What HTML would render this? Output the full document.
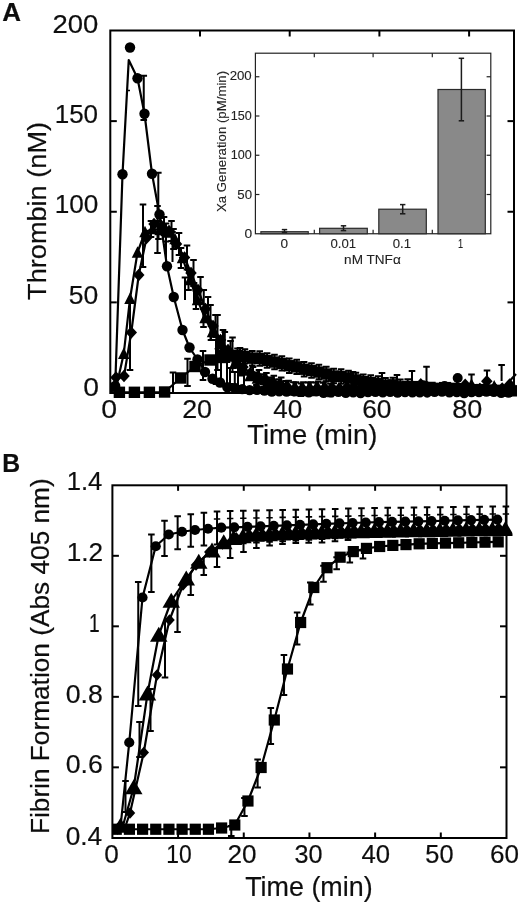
<!DOCTYPE html>
<html><head><meta charset="utf-8"><title>Figure</title>
<style>
html,body{margin:0;padding:0;background:#fff;}
body{width:520px;height:903px;overflow:hidden;font-family:"Liberation Sans",sans-serif;}
svg{display:block;}
svg text{font-family:"Liberation Sans",sans-serif;}
</style></head><body>
<svg width="520" height="903" viewBox="0 0 520 903">
<defs><filter id="soft" x="0" y="0" width="100%" height="100%" filterUnits="userSpaceOnUse"><feGaussianBlur stdDeviation="0.45"/></filter></defs>
<rect width="520" height="903" fill="#fff"/>
<g filter="url(#soft)">
<clipPath id="ca"><rect x="110.3" y="30.5" width="409.2" height="368.5"/></clipPath>
<g clip-path="url(#ca)">
<polyline points="110.30,392.00 115.20,386.00 122.50,174.25 128.75,60.00 137.50,78.25 144.50,113.75 152.00,173.75 159.50,214.50 167.00,266.25 173.75,297.00 182.50,330.00 189.50,347.50 197.50,359.50 205.00,372.00 212.50,378.75 220.00,382.50 227.40,387.23 234.80,387.99 242.20,389.14 249.60,390.12 257.00,389.89 264.40,390.48 271.80,391.57 279.20,391.30 286.60,391.59 294.00,391.18 301.40,391.55 308.80,392.36 316.20,391.31 323.60,392.78 331.00,392.33 338.40,391.82 345.80,392.83 353.20,392.31 360.60,393.06 368.00,392.04 375.40,391.90 382.80,392.22 390.20,391.73 397.60,392.65 405.00,392.03 412.40,392.20 419.80,392.23 427.20,392.43 434.60,391.81 442.00,391.64 449.40,392.40 456.80,392.10 464.20,393.08 471.60,392.04 479.00,392.12 486.40,391.56 493.80,391.84 501.20,392.72 508.60,392.55" fill="none" stroke="#000" stroke-width="2.2" stroke-linejoin="round"/>
<polyline points="110.30,392.00 116.50,386.00 123.75,353.75 130.00,298.75 137.50,252.50 145.00,232.00 152.50,229.00 160.00,230.00 167.50,232.50 175.00,239.00 182.50,258.00 190.00,280.00 197.50,300.00 205.00,318.00 212.50,332.00 220.00,344.00 227.50,354.00 235.00,363.00 242.50,370.50 250.00,376.00 257.40,378.47 264.80,380.16 272.20,383.43 279.60,385.34 287.00,387.07 294.40,388.20 301.80,389.44 309.20,388.43 316.60,388.62 324.00,388.86 331.40,389.64 338.80,388.39 346.20,388.99 353.60,389.16 361.00,389.70 368.40,389.61 375.80,389.69 383.20,385.76 390.60,388.99 398.00,388.91 405.40,389.76 412.80,389.89 420.20,385.61 427.60,388.66 435.00,388.76 442.40,388.77 449.80,389.18 457.20,386.36 464.60,388.85 472.00,388.44 479.40,389.12 486.80,389.05 494.20,386.37 501.60,390.00 509.00,389.59" fill="none" stroke="#000" stroke-width="2.2" stroke-linejoin="round"/>
<polyline points="110.30,392.00 116.00,377.50 124.00,376.00 131.25,332.50 138.75,275.00 146.50,238.00 154.00,224.00 161.50,226.00 169.00,231.00 176.50,244.00 184.50,257.50 191.00,273.00 198.00,290.00 205.50,309.00 213.00,326.00 220.50,340.00 228.00,350.00 235.50,359.00 243.00,367.00 250.50,373.00 258.00,376.52 265.40,379.39 272.80,382.28 280.20,383.99 287.60,387.34 295.00,388.65 302.40,388.81 309.80,388.70 317.20,388.07 324.60,388.09 332.00,387.63 339.40,388.49 346.80,387.59 354.20,387.61 361.60,387.85 369.00,387.79 376.40,384.59 383.80,387.64 391.20,387.57 398.60,387.83 406.00,387.76 413.40,388.19 420.80,384.16 428.20,389.04 435.60,388.63 443.00,387.90 450.40,388.08 457.80,388.25 465.20,384.79 472.60,387.91 480.00,389.09 487.40,389.33 494.80,388.50 502.20,388.54 509.60,384.42" fill="none" stroke="#000" stroke-width="2.2" stroke-linejoin="round"/>
<polyline points="110.30,392.00 119.40,392.30 134.40,392.30 149.40,392.30 164.60,392.00 180.60,378.00 195.00,366.50 210.00,360.00 222.00,357.50 230.00,356.00 237.50,355.60 244.90,356.41 252.30,358.18 259.70,358.43 267.10,360.54 274.50,362.04 281.90,363.35 289.30,365.73 296.70,366.86 304.10,369.21 311.50,370.50 318.90,372.05 326.30,374.01 333.70,376.07 341.10,376.47 348.50,377.99 355.90,379.93 363.30,381.70 370.70,382.50 378.10,383.56 385.50,385.29 392.90,384.83 400.30,386.80 407.70,386.47 415.10,386.62 422.50,386.94 429.90,387.44 437.30,388.33 444.70,387.63 452.10,388.38 459.50,388.65 466.90,388.84 474.30,389.68 481.70,389.60 489.10,390.05 496.50,390.34 503.90,391.08 511.30,390.81" fill="none" stroke="#000" stroke-width="2.2" stroke-linejoin="round"/>
<line x1="143.75" y1="75.75" x2="143.75" y2="120.00" stroke="#000" stroke-width="2.0" stroke-linecap="butt"/>
<line x1="140.45" y1="75.75" x2="147.05" y2="75.75" stroke="#000" stroke-width="2.0" stroke-linecap="butt"/>
<line x1="140.45" y1="120.00" x2="147.05" y2="120.00" stroke="#000" stroke-width="2.0" stroke-linecap="butt"/>
<line x1="126.00" y1="90.50" x2="130.00" y2="90.50" stroke="#000" stroke-width="1.6" stroke-linecap="butt"/>
<line x1="143.00" y1="204.50" x2="143.00" y2="267.00" stroke="#000" stroke-width="2.0" stroke-linecap="butt"/>
<line x1="139.70" y1="204.50" x2="146.30" y2="204.50" stroke="#000" stroke-width="2.0" stroke-linecap="butt"/>
<line x1="139.70" y1="267.00" x2="146.30" y2="267.00" stroke="#000" stroke-width="2.0" stroke-linecap="butt"/>
<line x1="157.50" y1="206.00" x2="157.50" y2="253.00" stroke="#000" stroke-width="2.0" stroke-linecap="butt"/>
<line x1="154.20" y1="206.00" x2="160.80" y2="206.00" stroke="#000" stroke-width="2.0" stroke-linecap="butt"/>
<line x1="154.20" y1="253.00" x2="160.80" y2="253.00" stroke="#000" stroke-width="2.0" stroke-linecap="butt"/>
<line x1="158.30" y1="172.80" x2="158.30" y2="214.00" stroke="#000" stroke-width="2.0" stroke-linecap="butt"/>
<line x1="155.00" y1="172.80" x2="161.60" y2="172.80" stroke="#000" stroke-width="2.0" stroke-linecap="butt"/>
<line x1="130.00" y1="300.00" x2="130.00" y2="370.00" stroke="#000" stroke-width="2.0" stroke-linecap="butt"/>
<line x1="126.70" y1="370.00" x2="133.30" y2="370.00" stroke="#000" stroke-width="2.0" stroke-linecap="butt"/>
<line x1="185.00" y1="277.50" x2="185.00" y2="300.00" stroke="#000" stroke-width="2.0" stroke-linecap="butt"/>
<line x1="181.70" y1="277.50" x2="188.30" y2="277.50" stroke="#000" stroke-width="2.0" stroke-linecap="butt"/>
<line x1="203.75" y1="290.00" x2="203.75" y2="318.00" stroke="#000" stroke-width="2.0" stroke-linecap="butt"/>
<line x1="200.45" y1="290.00" x2="207.05" y2="290.00" stroke="#000" stroke-width="2.0" stroke-linecap="butt"/>
<line x1="217.50" y1="315.00" x2="217.50" y2="370.00" stroke="#000" stroke-width="2.0" stroke-linecap="butt"/>
<line x1="214.20" y1="315.00" x2="220.80" y2="315.00" stroke="#000" stroke-width="2.0" stroke-linecap="butt"/>
<line x1="214.20" y1="370.00" x2="220.80" y2="370.00" stroke="#000" stroke-width="2.0" stroke-linecap="butt"/>
<line x1="232.50" y1="337.50" x2="232.50" y2="372.00" stroke="#000" stroke-width="2.0" stroke-linecap="butt"/>
<line x1="229.20" y1="337.50" x2="235.80" y2="337.50" stroke="#000" stroke-width="2.0" stroke-linecap="butt"/>
<line x1="229.20" y1="372.00" x2="235.80" y2="372.00" stroke="#000" stroke-width="2.0" stroke-linecap="butt"/>
<line x1="187.50" y1="358.75" x2="187.50" y2="386.00" stroke="#000" stroke-width="2.0" stroke-linecap="butt"/>
<line x1="184.20" y1="358.75" x2="190.80" y2="358.75" stroke="#000" stroke-width="2.0" stroke-linecap="butt"/>
<line x1="184.20" y1="386.00" x2="190.80" y2="386.00" stroke="#000" stroke-width="2.0" stroke-linecap="butt"/>
<line x1="203.00" y1="351.00" x2="203.00" y2="380.00" stroke="#000" stroke-width="2.0" stroke-linecap="butt"/>
<line x1="199.70" y1="351.00" x2="206.30" y2="351.00" stroke="#000" stroke-width="2.0" stroke-linecap="butt"/>
<line x1="199.70" y1="380.00" x2="206.30" y2="380.00" stroke="#000" stroke-width="2.0" stroke-linecap="butt"/>
<line x1="173.00" y1="372.50" x2="173.00" y2="392.00" stroke="#000" stroke-width="2.0" stroke-linecap="butt"/>
<line x1="169.70" y1="372.50" x2="176.30" y2="372.50" stroke="#000" stroke-width="2.0" stroke-linecap="butt"/>
<line x1="166.00" y1="236.00" x2="166.00" y2="262.00" stroke="#000" stroke-width="2.0" stroke-linecap="butt"/>
<line x1="162.70" y1="236.00" x2="169.30" y2="236.00" stroke="#000" stroke-width="2.0" stroke-linecap="butt"/>
<line x1="172.50" y1="232.00" x2="172.50" y2="262.00" stroke="#000" stroke-width="2.0" stroke-linecap="butt"/>
<line x1="169.20" y1="232.00" x2="175.80" y2="232.00" stroke="#000" stroke-width="2.0" stroke-linecap="butt"/>
<line x1="194.00" y1="283.00" x2="194.00" y2="305.00" stroke="#000" stroke-width="2.0" stroke-linecap="butt"/>
<line x1="190.70" y1="283.00" x2="197.30" y2="283.00" stroke="#000" stroke-width="2.0" stroke-linecap="butt"/>
<line x1="210.50" y1="305.00" x2="210.50" y2="340.00" stroke="#000" stroke-width="2.0" stroke-linecap="butt"/>
<line x1="207.20" y1="305.00" x2="213.80" y2="305.00" stroke="#000" stroke-width="2.0" stroke-linecap="butt"/>
<line x1="224.80" y1="332.00" x2="224.80" y2="352.00" stroke="#000" stroke-width="2.0" stroke-linecap="butt"/>
<line x1="221.50" y1="332.00" x2="228.10" y2="332.00" stroke="#000" stroke-width="2.0" stroke-linecap="butt"/>
<line x1="240.00" y1="348.00" x2="240.00" y2="372.00" stroke="#000" stroke-width="2.0" stroke-linecap="butt"/>
<line x1="236.70" y1="348.00" x2="243.30" y2="348.00" stroke="#000" stroke-width="2.0" stroke-linecap="butt"/>
<line x1="227.00" y1="362.00" x2="227.00" y2="388.00" stroke="#000" stroke-width="2.0" stroke-linecap="butt"/>
<line x1="223.70" y1="362.00" x2="230.30" y2="362.00" stroke="#000" stroke-width="2.0" stroke-linecap="butt"/>
<line x1="223.70" y1="388.00" x2="230.30" y2="388.00" stroke="#000" stroke-width="2.0" stroke-linecap="butt"/>
<line x1="230.00" y1="368.00" x2="230.00" y2="384.00" stroke="#000" stroke-width="2.0" stroke-linecap="butt"/>
<line x1="226.70" y1="368.00" x2="233.30" y2="368.00" stroke="#000" stroke-width="2.0" stroke-linecap="butt"/>
<line x1="226.70" y1="384.00" x2="233.30" y2="384.00" stroke="#000" stroke-width="2.0" stroke-linecap="butt"/>
<line x1="234.80" y1="372.00" x2="234.80" y2="390.00" stroke="#000" stroke-width="2.0" stroke-linecap="butt"/>
<line x1="231.50" y1="372.00" x2="238.10" y2="372.00" stroke="#000" stroke-width="2.0" stroke-linecap="butt"/>
<line x1="231.50" y1="390.00" x2="238.10" y2="390.00" stroke="#000" stroke-width="2.0" stroke-linecap="butt"/>
<line x1="238.00" y1="366.00" x2="238.00" y2="386.00" stroke="#000" stroke-width="2.0" stroke-linecap="butt"/>
<line x1="234.70" y1="366.00" x2="241.30" y2="366.00" stroke="#000" stroke-width="2.0" stroke-linecap="butt"/>
<line x1="234.70" y1="386.00" x2="241.30" y2="386.00" stroke="#000" stroke-width="2.0" stroke-linecap="butt"/>
<line x1="244.00" y1="374.00" x2="244.00" y2="390.00" stroke="#000" stroke-width="2.0" stroke-linecap="butt"/>
<line x1="240.70" y1="374.00" x2="247.30" y2="374.00" stroke="#000" stroke-width="2.0" stroke-linecap="butt"/>
<line x1="240.70" y1="390.00" x2="247.30" y2="390.00" stroke="#000" stroke-width="2.0" stroke-linecap="butt"/>
<line x1="221.00" y1="352.00" x2="221.00" y2="386.00" stroke="#000" stroke-width="2.0" stroke-linecap="butt"/>
<line x1="217.70" y1="352.00" x2="224.30" y2="352.00" stroke="#000" stroke-width="2.0" stroke-linecap="butt"/>
<line x1="217.70" y1="386.00" x2="224.30" y2="386.00" stroke="#000" stroke-width="2.0" stroke-linecap="butt"/>
<line x1="216.00" y1="340.00" x2="216.00" y2="384.00" stroke="#000" stroke-width="2.0" stroke-linecap="butt"/>
<line x1="212.70" y1="340.00" x2="219.30" y2="340.00" stroke="#000" stroke-width="2.0" stroke-linecap="butt"/>
<line x1="212.70" y1="384.00" x2="219.30" y2="384.00" stroke="#000" stroke-width="2.0" stroke-linecap="butt"/>
<line x1="353.00" y1="372.00" x2="353.00" y2="388.00" stroke="#000" stroke-width="2.0" stroke-linecap="butt"/>
<line x1="349.70" y1="372.00" x2="356.30" y2="372.00" stroke="#000" stroke-width="2.0" stroke-linecap="butt"/>
<line x1="382.00" y1="373.00" x2="382.00" y2="389.00" stroke="#000" stroke-width="2.0" stroke-linecap="butt"/>
<line x1="378.70" y1="373.00" x2="385.30" y2="373.00" stroke="#000" stroke-width="2.0" stroke-linecap="butt"/>
<line x1="397.00" y1="375.00" x2="397.00" y2="391.00" stroke="#000" stroke-width="2.0" stroke-linecap="butt"/>
<line x1="393.70" y1="375.00" x2="400.30" y2="375.00" stroke="#000" stroke-width="2.0" stroke-linecap="butt"/>
<line x1="412.00" y1="371.00" x2="412.00" y2="387.00" stroke="#000" stroke-width="2.0" stroke-linecap="butt"/>
<line x1="408.70" y1="371.00" x2="415.30" y2="371.00" stroke="#000" stroke-width="2.0" stroke-linecap="butt"/>
<line x1="426.50" y1="366.70" x2="426.50" y2="382.70" stroke="#000" stroke-width="2.0" stroke-linecap="butt"/>
<line x1="423.20" y1="366.70" x2="429.80" y2="366.70" stroke="#000" stroke-width="2.0" stroke-linecap="butt"/>
<line x1="471.50" y1="374.60" x2="471.50" y2="390.60" stroke="#000" stroke-width="2.0" stroke-linecap="butt"/>
<line x1="468.20" y1="374.60" x2="474.80" y2="374.60" stroke="#000" stroke-width="2.0" stroke-linecap="butt"/>
<line x1="487.00" y1="370.50" x2="487.00" y2="386.50" stroke="#000" stroke-width="2.0" stroke-linecap="butt"/>
<line x1="483.70" y1="370.50" x2="490.30" y2="370.50" stroke="#000" stroke-width="2.0" stroke-linecap="butt"/>
<line x1="501.60" y1="365.00" x2="501.60" y2="381.00" stroke="#000" stroke-width="2.0" stroke-linecap="butt"/>
<line x1="498.30" y1="365.00" x2="504.90" y2="365.00" stroke="#000" stroke-width="2.0" stroke-linecap="butt"/>
<line x1="237.50" y1="348.40" x2="237.50" y2="362.80" stroke="#000" stroke-width="2.0" stroke-linecap="butt"/>
<line x1="234.20" y1="348.40" x2="240.80" y2="348.40" stroke="#000" stroke-width="2.0" stroke-linecap="butt"/>
<line x1="234.20" y1="362.80" x2="240.80" y2="362.80" stroke="#000" stroke-width="2.0" stroke-linecap="butt"/>
<line x1="244.90" y1="349.21" x2="244.90" y2="363.61" stroke="#000" stroke-width="2.0" stroke-linecap="butt"/>
<line x1="241.60" y1="349.21" x2="248.20" y2="349.21" stroke="#000" stroke-width="2.0" stroke-linecap="butt"/>
<line x1="241.60" y1="363.61" x2="248.20" y2="363.61" stroke="#000" stroke-width="2.0" stroke-linecap="butt"/>
<line x1="252.30" y1="350.98" x2="252.30" y2="365.38" stroke="#000" stroke-width="2.0" stroke-linecap="butt"/>
<line x1="249.00" y1="350.98" x2="255.60" y2="350.98" stroke="#000" stroke-width="2.0" stroke-linecap="butt"/>
<line x1="249.00" y1="365.38" x2="255.60" y2="365.38" stroke="#000" stroke-width="2.0" stroke-linecap="butt"/>
<line x1="259.70" y1="351.23" x2="259.70" y2="365.63" stroke="#000" stroke-width="2.0" stroke-linecap="butt"/>
<line x1="256.40" y1="351.23" x2="263.00" y2="351.23" stroke="#000" stroke-width="2.0" stroke-linecap="butt"/>
<line x1="256.40" y1="365.63" x2="263.00" y2="365.63" stroke="#000" stroke-width="2.0" stroke-linecap="butt"/>
<line x1="267.10" y1="353.34" x2="267.10" y2="367.74" stroke="#000" stroke-width="2.0" stroke-linecap="butt"/>
<line x1="263.80" y1="353.34" x2="270.40" y2="353.34" stroke="#000" stroke-width="2.0" stroke-linecap="butt"/>
<line x1="263.80" y1="367.74" x2="270.40" y2="367.74" stroke="#000" stroke-width="2.0" stroke-linecap="butt"/>
<line x1="274.50" y1="354.84" x2="274.50" y2="369.24" stroke="#000" stroke-width="2.0" stroke-linecap="butt"/>
<line x1="271.20" y1="354.84" x2="277.80" y2="354.84" stroke="#000" stroke-width="2.0" stroke-linecap="butt"/>
<line x1="271.20" y1="369.24" x2="277.80" y2="369.24" stroke="#000" stroke-width="2.0" stroke-linecap="butt"/>
<line x1="281.90" y1="356.15" x2="281.90" y2="370.55" stroke="#000" stroke-width="2.0" stroke-linecap="butt"/>
<line x1="278.60" y1="356.15" x2="285.20" y2="356.15" stroke="#000" stroke-width="2.0" stroke-linecap="butt"/>
<line x1="278.60" y1="370.55" x2="285.20" y2="370.55" stroke="#000" stroke-width="2.0" stroke-linecap="butt"/>
<line x1="289.30" y1="358.53" x2="289.30" y2="372.93" stroke="#000" stroke-width="2.0" stroke-linecap="butt"/>
<line x1="286.00" y1="358.53" x2="292.60" y2="358.53" stroke="#000" stroke-width="2.0" stroke-linecap="butt"/>
<line x1="286.00" y1="372.93" x2="292.60" y2="372.93" stroke="#000" stroke-width="2.0" stroke-linecap="butt"/>
<line x1="296.70" y1="359.66" x2="296.70" y2="374.06" stroke="#000" stroke-width="2.0" stroke-linecap="butt"/>
<line x1="293.40" y1="359.66" x2="300.00" y2="359.66" stroke="#000" stroke-width="2.0" stroke-linecap="butt"/>
<line x1="293.40" y1="374.06" x2="300.00" y2="374.06" stroke="#000" stroke-width="2.0" stroke-linecap="butt"/>
<line x1="304.10" y1="362.01" x2="304.10" y2="376.41" stroke="#000" stroke-width="2.0" stroke-linecap="butt"/>
<line x1="300.80" y1="362.01" x2="307.40" y2="362.01" stroke="#000" stroke-width="2.0" stroke-linecap="butt"/>
<line x1="300.80" y1="376.41" x2="307.40" y2="376.41" stroke="#000" stroke-width="2.0" stroke-linecap="butt"/>
<line x1="311.50" y1="363.30" x2="311.50" y2="377.70" stroke="#000" stroke-width="2.0" stroke-linecap="butt"/>
<line x1="308.20" y1="363.30" x2="314.80" y2="363.30" stroke="#000" stroke-width="2.0" stroke-linecap="butt"/>
<line x1="308.20" y1="377.70" x2="314.80" y2="377.70" stroke="#000" stroke-width="2.0" stroke-linecap="butt"/>
<line x1="318.90" y1="364.85" x2="318.90" y2="379.25" stroke="#000" stroke-width="2.0" stroke-linecap="butt"/>
<line x1="315.60" y1="364.85" x2="322.20" y2="364.85" stroke="#000" stroke-width="2.0" stroke-linecap="butt"/>
<line x1="315.60" y1="379.25" x2="322.20" y2="379.25" stroke="#000" stroke-width="2.0" stroke-linecap="butt"/>
<line x1="326.30" y1="366.81" x2="326.30" y2="381.21" stroke="#000" stroke-width="2.0" stroke-linecap="butt"/>
<line x1="323.00" y1="366.81" x2="329.60" y2="366.81" stroke="#000" stroke-width="2.0" stroke-linecap="butt"/>
<line x1="323.00" y1="381.21" x2="329.60" y2="381.21" stroke="#000" stroke-width="2.0" stroke-linecap="butt"/>
<line x1="333.70" y1="368.87" x2="333.70" y2="383.27" stroke="#000" stroke-width="2.0" stroke-linecap="butt"/>
<line x1="330.40" y1="368.87" x2="337.00" y2="368.87" stroke="#000" stroke-width="2.0" stroke-linecap="butt"/>
<line x1="330.40" y1="383.27" x2="337.00" y2="383.27" stroke="#000" stroke-width="2.0" stroke-linecap="butt"/>
<line x1="341.10" y1="369.27" x2="341.10" y2="383.67" stroke="#000" stroke-width="2.0" stroke-linecap="butt"/>
<line x1="337.80" y1="369.27" x2="344.40" y2="369.27" stroke="#000" stroke-width="2.0" stroke-linecap="butt"/>
<line x1="337.80" y1="383.67" x2="344.40" y2="383.67" stroke="#000" stroke-width="2.0" stroke-linecap="butt"/>
<line x1="348.50" y1="370.79" x2="348.50" y2="385.19" stroke="#000" stroke-width="2.0" stroke-linecap="butt"/>
<line x1="345.20" y1="370.79" x2="351.80" y2="370.79" stroke="#000" stroke-width="2.0" stroke-linecap="butt"/>
<line x1="345.20" y1="385.19" x2="351.80" y2="385.19" stroke="#000" stroke-width="2.0" stroke-linecap="butt"/>
<line x1="355.90" y1="372.73" x2="355.90" y2="387.13" stroke="#000" stroke-width="2.0" stroke-linecap="butt"/>
<line x1="352.60" y1="372.73" x2="359.20" y2="372.73" stroke="#000" stroke-width="2.0" stroke-linecap="butt"/>
<line x1="352.60" y1="387.13" x2="359.20" y2="387.13" stroke="#000" stroke-width="2.0" stroke-linecap="butt"/>
<line x1="363.30" y1="374.50" x2="363.30" y2="388.90" stroke="#000" stroke-width="2.0" stroke-linecap="butt"/>
<line x1="360.00" y1="374.50" x2="366.60" y2="374.50" stroke="#000" stroke-width="2.0" stroke-linecap="butt"/>
<line x1="360.00" y1="388.90" x2="366.60" y2="388.90" stroke="#000" stroke-width="2.0" stroke-linecap="butt"/>
<line x1="370.70" y1="375.30" x2="370.70" y2="389.70" stroke="#000" stroke-width="2.0" stroke-linecap="butt"/>
<line x1="367.40" y1="375.30" x2="374.00" y2="375.30" stroke="#000" stroke-width="2.0" stroke-linecap="butt"/>
<line x1="367.40" y1="389.70" x2="374.00" y2="389.70" stroke="#000" stroke-width="2.0" stroke-linecap="butt"/>
<line x1="378.10" y1="376.36" x2="378.10" y2="390.76" stroke="#000" stroke-width="2.0" stroke-linecap="butt"/>
<line x1="374.80" y1="376.36" x2="381.40" y2="376.36" stroke="#000" stroke-width="2.0" stroke-linecap="butt"/>
<line x1="374.80" y1="390.76" x2="381.40" y2="390.76" stroke="#000" stroke-width="2.0" stroke-linecap="butt"/>
<line x1="385.50" y1="378.09" x2="385.50" y2="392.49" stroke="#000" stroke-width="2.0" stroke-linecap="butt"/>
<line x1="382.20" y1="378.09" x2="388.80" y2="378.09" stroke="#000" stroke-width="2.0" stroke-linecap="butt"/>
<line x1="382.20" y1="392.49" x2="388.80" y2="392.49" stroke="#000" stroke-width="2.0" stroke-linecap="butt"/>
<line x1="392.90" y1="377.63" x2="392.90" y2="392.03" stroke="#000" stroke-width="2.0" stroke-linecap="butt"/>
<line x1="389.60" y1="377.63" x2="396.20" y2="377.63" stroke="#000" stroke-width="2.0" stroke-linecap="butt"/>
<line x1="389.60" y1="392.03" x2="396.20" y2="392.03" stroke="#000" stroke-width="2.0" stroke-linecap="butt"/>
<line x1="400.30" y1="379.60" x2="400.30" y2="394.00" stroke="#000" stroke-width="2.0" stroke-linecap="butt"/>
<line x1="397.00" y1="379.60" x2="403.60" y2="379.60" stroke="#000" stroke-width="2.0" stroke-linecap="butt"/>
<line x1="397.00" y1="394.00" x2="403.60" y2="394.00" stroke="#000" stroke-width="2.0" stroke-linecap="butt"/>
<line x1="407.70" y1="379.27" x2="407.70" y2="393.67" stroke="#000" stroke-width="2.0" stroke-linecap="butt"/>
<line x1="404.40" y1="379.27" x2="411.00" y2="379.27" stroke="#000" stroke-width="2.0" stroke-linecap="butt"/>
<line x1="404.40" y1="393.67" x2="411.00" y2="393.67" stroke="#000" stroke-width="2.0" stroke-linecap="butt"/>
<line x1="259.00" y1="370.02" x2="259.00" y2="383.02" stroke="#000" stroke-width="2.0" stroke-linecap="butt"/>
<line x1="255.70" y1="370.02" x2="262.30" y2="370.02" stroke="#000" stroke-width="2.0" stroke-linecap="butt"/>
<line x1="255.70" y1="383.02" x2="262.30" y2="383.02" stroke="#000" stroke-width="2.0" stroke-linecap="butt"/>
<line x1="266.40" y1="372.89" x2="266.40" y2="385.89" stroke="#000" stroke-width="2.0" stroke-linecap="butt"/>
<line x1="263.10" y1="372.89" x2="269.70" y2="372.89" stroke="#000" stroke-width="2.0" stroke-linecap="butt"/>
<line x1="263.10" y1="385.89" x2="269.70" y2="385.89" stroke="#000" stroke-width="2.0" stroke-linecap="butt"/>
<line x1="273.80" y1="375.78" x2="273.80" y2="388.78" stroke="#000" stroke-width="2.0" stroke-linecap="butt"/>
<line x1="270.50" y1="375.78" x2="277.10" y2="375.78" stroke="#000" stroke-width="2.0" stroke-linecap="butt"/>
<line x1="270.50" y1="388.78" x2="277.10" y2="388.78" stroke="#000" stroke-width="2.0" stroke-linecap="butt"/>
<line x1="281.20" y1="377.49" x2="281.20" y2="390.49" stroke="#000" stroke-width="2.0" stroke-linecap="butt"/>
<line x1="277.90" y1="377.49" x2="284.50" y2="377.49" stroke="#000" stroke-width="2.0" stroke-linecap="butt"/>
<line x1="277.90" y1="390.49" x2="284.50" y2="390.49" stroke="#000" stroke-width="2.0" stroke-linecap="butt"/>
<line x1="288.60" y1="380.84" x2="288.60" y2="393.84" stroke="#000" stroke-width="2.0" stroke-linecap="butt"/>
<line x1="285.30" y1="380.84" x2="291.90" y2="380.84" stroke="#000" stroke-width="2.0" stroke-linecap="butt"/>
<line x1="285.30" y1="393.84" x2="291.90" y2="393.84" stroke="#000" stroke-width="2.0" stroke-linecap="butt"/>
<line x1="296.00" y1="382.15" x2="296.00" y2="395.15" stroke="#000" stroke-width="2.0" stroke-linecap="butt"/>
<line x1="292.70" y1="382.15" x2="299.30" y2="382.15" stroke="#000" stroke-width="2.0" stroke-linecap="butt"/>
<line x1="292.70" y1="395.15" x2="299.30" y2="395.15" stroke="#000" stroke-width="2.0" stroke-linecap="butt"/>
<line x1="303.40" y1="382.31" x2="303.40" y2="395.31" stroke="#000" stroke-width="2.0" stroke-linecap="butt"/>
<line x1="300.10" y1="382.31" x2="306.70" y2="382.31" stroke="#000" stroke-width="2.0" stroke-linecap="butt"/>
<line x1="300.10" y1="395.31" x2="306.70" y2="395.31" stroke="#000" stroke-width="2.0" stroke-linecap="butt"/>
<line x1="310.80" y1="382.20" x2="310.80" y2="395.20" stroke="#000" stroke-width="2.0" stroke-linecap="butt"/>
<line x1="307.50" y1="382.20" x2="314.10" y2="382.20" stroke="#000" stroke-width="2.0" stroke-linecap="butt"/>
<line x1="307.50" y1="395.20" x2="314.10" y2="395.20" stroke="#000" stroke-width="2.0" stroke-linecap="butt"/>
<line x1="318.20" y1="381.57" x2="318.20" y2="394.57" stroke="#000" stroke-width="2.0" stroke-linecap="butt"/>
<line x1="314.90" y1="381.57" x2="321.50" y2="381.57" stroke="#000" stroke-width="2.0" stroke-linecap="butt"/>
<line x1="314.90" y1="394.57" x2="321.50" y2="394.57" stroke="#000" stroke-width="2.0" stroke-linecap="butt"/>
<line x1="325.60" y1="381.59" x2="325.60" y2="394.59" stroke="#000" stroke-width="2.0" stroke-linecap="butt"/>
<line x1="322.30" y1="381.59" x2="328.90" y2="381.59" stroke="#000" stroke-width="2.0" stroke-linecap="butt"/>
<line x1="322.30" y1="394.59" x2="328.90" y2="394.59" stroke="#000" stroke-width="2.0" stroke-linecap="butt"/>
<line x1="333.00" y1="381.13" x2="333.00" y2="394.13" stroke="#000" stroke-width="2.0" stroke-linecap="butt"/>
<line x1="329.70" y1="381.13" x2="336.30" y2="381.13" stroke="#000" stroke-width="2.0" stroke-linecap="butt"/>
<line x1="329.70" y1="394.13" x2="336.30" y2="394.13" stroke="#000" stroke-width="2.0" stroke-linecap="butt"/>
<line x1="256.40" y1="372.47" x2="256.40" y2="384.97" stroke="#000" stroke-width="2.0" stroke-linecap="butt"/>
<line x1="253.10" y1="372.47" x2="259.70" y2="372.47" stroke="#000" stroke-width="2.0" stroke-linecap="butt"/>
<line x1="253.10" y1="384.97" x2="259.70" y2="384.97" stroke="#000" stroke-width="2.0" stroke-linecap="butt"/>
<line x1="263.80" y1="374.16" x2="263.80" y2="386.66" stroke="#000" stroke-width="2.0" stroke-linecap="butt"/>
<line x1="260.50" y1="374.16" x2="267.10" y2="374.16" stroke="#000" stroke-width="2.0" stroke-linecap="butt"/>
<line x1="260.50" y1="386.66" x2="267.10" y2="386.66" stroke="#000" stroke-width="2.0" stroke-linecap="butt"/>
<line x1="271.20" y1="377.43" x2="271.20" y2="389.93" stroke="#000" stroke-width="2.0" stroke-linecap="butt"/>
<line x1="267.90" y1="377.43" x2="274.50" y2="377.43" stroke="#000" stroke-width="2.0" stroke-linecap="butt"/>
<line x1="267.90" y1="389.93" x2="274.50" y2="389.93" stroke="#000" stroke-width="2.0" stroke-linecap="butt"/>
<line x1="278.60" y1="379.34" x2="278.60" y2="391.84" stroke="#000" stroke-width="2.0" stroke-linecap="butt"/>
<line x1="275.30" y1="379.34" x2="281.90" y2="379.34" stroke="#000" stroke-width="2.0" stroke-linecap="butt"/>
<line x1="275.30" y1="391.84" x2="281.90" y2="391.84" stroke="#000" stroke-width="2.0" stroke-linecap="butt"/>
<line x1="286.00" y1="381.07" x2="286.00" y2="393.57" stroke="#000" stroke-width="2.0" stroke-linecap="butt"/>
<line x1="282.70" y1="381.07" x2="289.30" y2="381.07" stroke="#000" stroke-width="2.0" stroke-linecap="butt"/>
<line x1="282.70" y1="393.57" x2="289.30" y2="393.57" stroke="#000" stroke-width="2.0" stroke-linecap="butt"/>
<line x1="293.40" y1="382.20" x2="293.40" y2="394.70" stroke="#000" stroke-width="2.0" stroke-linecap="butt"/>
<line x1="290.10" y1="382.20" x2="296.70" y2="382.20" stroke="#000" stroke-width="2.0" stroke-linecap="butt"/>
<line x1="290.10" y1="394.70" x2="296.70" y2="394.70" stroke="#000" stroke-width="2.0" stroke-linecap="butt"/>
<line x1="300.80" y1="383.44" x2="300.80" y2="395.94" stroke="#000" stroke-width="2.0" stroke-linecap="butt"/>
<line x1="297.50" y1="383.44" x2="304.10" y2="383.44" stroke="#000" stroke-width="2.0" stroke-linecap="butt"/>
<line x1="297.50" y1="395.94" x2="304.10" y2="395.94" stroke="#000" stroke-width="2.0" stroke-linecap="butt"/>
<line x1="308.20" y1="382.43" x2="308.20" y2="394.93" stroke="#000" stroke-width="2.0" stroke-linecap="butt"/>
<line x1="304.90" y1="382.43" x2="311.50" y2="382.43" stroke="#000" stroke-width="2.0" stroke-linecap="butt"/>
<line x1="304.90" y1="394.93" x2="311.50" y2="394.93" stroke="#000" stroke-width="2.0" stroke-linecap="butt"/>
<line x1="315.60" y1="382.62" x2="315.60" y2="395.12" stroke="#000" stroke-width="2.0" stroke-linecap="butt"/>
<line x1="312.30" y1="382.62" x2="318.90" y2="382.62" stroke="#000" stroke-width="2.0" stroke-linecap="butt"/>
<line x1="312.30" y1="395.12" x2="318.90" y2="395.12" stroke="#000" stroke-width="2.0" stroke-linecap="butt"/>
<line x1="323.00" y1="382.86" x2="323.00" y2="395.36" stroke="#000" stroke-width="2.0" stroke-linecap="butt"/>
<line x1="319.70" y1="382.86" x2="326.30" y2="382.86" stroke="#000" stroke-width="2.0" stroke-linecap="butt"/>
<line x1="319.70" y1="395.36" x2="326.30" y2="395.36" stroke="#000" stroke-width="2.0" stroke-linecap="butt"/>
<line x1="330.40" y1="383.64" x2="330.40" y2="396.14" stroke="#000" stroke-width="2.0" stroke-linecap="butt"/>
<line x1="327.10" y1="383.64" x2="333.70" y2="383.64" stroke="#000" stroke-width="2.0" stroke-linecap="butt"/>
<line x1="327.10" y1="396.14" x2="333.70" y2="396.14" stroke="#000" stroke-width="2.0" stroke-linecap="butt"/>
<line x1="164.00" y1="217.00" x2="164.00" y2="235.00" stroke="#000" stroke-width="2.0" stroke-linecap="butt"/>
<line x1="160.70" y1="217.00" x2="167.30" y2="217.00" stroke="#000" stroke-width="2.0" stroke-linecap="butt"/>
<line x1="160.70" y1="235.00" x2="167.30" y2="235.00" stroke="#000" stroke-width="2.0" stroke-linecap="butt"/>
<line x1="171.50" y1="221.00" x2="171.50" y2="241.00" stroke="#000" stroke-width="2.0" stroke-linecap="butt"/>
<line x1="168.20" y1="221.00" x2="174.80" y2="221.00" stroke="#000" stroke-width="2.0" stroke-linecap="butt"/>
<line x1="168.20" y1="241.00" x2="174.80" y2="241.00" stroke="#000" stroke-width="2.0" stroke-linecap="butt"/>
<line x1="179.00" y1="233.00" x2="179.00" y2="255.00" stroke="#000" stroke-width="2.0" stroke-linecap="butt"/>
<line x1="175.70" y1="233.00" x2="182.30" y2="233.00" stroke="#000" stroke-width="2.0" stroke-linecap="butt"/>
<line x1="175.70" y1="255.00" x2="182.30" y2="255.00" stroke="#000" stroke-width="2.0" stroke-linecap="butt"/>
<line x1="187.00" y1="245.50" x2="187.00" y2="269.50" stroke="#000" stroke-width="2.0" stroke-linecap="butt"/>
<line x1="183.70" y1="245.50" x2="190.30" y2="245.50" stroke="#000" stroke-width="2.0" stroke-linecap="butt"/>
<line x1="183.70" y1="269.50" x2="190.30" y2="269.50" stroke="#000" stroke-width="2.0" stroke-linecap="butt"/>
<line x1="193.50" y1="260.00" x2="193.50" y2="286.00" stroke="#000" stroke-width="2.0" stroke-linecap="butt"/>
<line x1="190.20" y1="260.00" x2="196.80" y2="260.00" stroke="#000" stroke-width="2.0" stroke-linecap="butt"/>
<line x1="190.20" y1="286.00" x2="196.80" y2="286.00" stroke="#000" stroke-width="2.0" stroke-linecap="butt"/>
<line x1="200.50" y1="277.00" x2="200.50" y2="303.00" stroke="#000" stroke-width="2.0" stroke-linecap="butt"/>
<line x1="197.20" y1="277.00" x2="203.80" y2="277.00" stroke="#000" stroke-width="2.0" stroke-linecap="butt"/>
<line x1="197.20" y1="303.00" x2="203.80" y2="303.00" stroke="#000" stroke-width="2.0" stroke-linecap="butt"/>
<line x1="208.00" y1="297.00" x2="208.00" y2="321.00" stroke="#000" stroke-width="2.0" stroke-linecap="butt"/>
<line x1="204.70" y1="297.00" x2="211.30" y2="297.00" stroke="#000" stroke-width="2.0" stroke-linecap="butt"/>
<line x1="204.70" y1="321.00" x2="211.30" y2="321.00" stroke="#000" stroke-width="2.0" stroke-linecap="butt"/>
<line x1="215.50" y1="315.00" x2="215.50" y2="337.00" stroke="#000" stroke-width="2.0" stroke-linecap="butt"/>
<line x1="212.20" y1="315.00" x2="218.80" y2="315.00" stroke="#000" stroke-width="2.0" stroke-linecap="butt"/>
<line x1="212.20" y1="337.00" x2="218.80" y2="337.00" stroke="#000" stroke-width="2.0" stroke-linecap="butt"/>
<line x1="223.00" y1="330.00" x2="223.00" y2="350.00" stroke="#000" stroke-width="2.0" stroke-linecap="butt"/>
<line x1="219.70" y1="330.00" x2="226.30" y2="330.00" stroke="#000" stroke-width="2.0" stroke-linecap="butt"/>
<line x1="219.70" y1="350.00" x2="226.30" y2="350.00" stroke="#000" stroke-width="2.0" stroke-linecap="butt"/>
<line x1="230.50" y1="341.00" x2="230.50" y2="359.00" stroke="#000" stroke-width="2.0" stroke-linecap="butt"/>
<line x1="227.20" y1="341.00" x2="233.80" y2="341.00" stroke="#000" stroke-width="2.0" stroke-linecap="butt"/>
<line x1="227.20" y1="359.00" x2="233.80" y2="359.00" stroke="#000" stroke-width="2.0" stroke-linecap="butt"/>
<line x1="238.00" y1="351.00" x2="238.00" y2="367.00" stroke="#000" stroke-width="2.0" stroke-linecap="butt"/>
<line x1="234.70" y1="351.00" x2="241.30" y2="351.00" stroke="#000" stroke-width="2.0" stroke-linecap="butt"/>
<line x1="234.70" y1="367.00" x2="241.30" y2="367.00" stroke="#000" stroke-width="2.0" stroke-linecap="butt"/>
<line x1="245.50" y1="360.00" x2="245.50" y2="374.00" stroke="#000" stroke-width="2.0" stroke-linecap="butt"/>
<line x1="242.20" y1="360.00" x2="248.80" y2="360.00" stroke="#000" stroke-width="2.0" stroke-linecap="butt"/>
<line x1="242.20" y1="374.00" x2="248.80" y2="374.00" stroke="#000" stroke-width="2.0" stroke-linecap="butt"/>
<line x1="253.00" y1="367.00" x2="253.00" y2="379.00" stroke="#000" stroke-width="2.0" stroke-linecap="butt"/>
<line x1="249.70" y1="367.00" x2="256.30" y2="367.00" stroke="#000" stroke-width="2.0" stroke-linecap="butt"/>
<line x1="249.70" y1="379.00" x2="256.30" y2="379.00" stroke="#000" stroke-width="2.0" stroke-linecap="butt"/>
<line x1="151.00" y1="221.00" x2="151.00" y2="237.00" stroke="#000" stroke-width="2.0" stroke-linecap="butt"/>
<line x1="147.70" y1="221.00" x2="154.30" y2="221.00" stroke="#000" stroke-width="2.0" stroke-linecap="butt"/>
<line x1="147.70" y1="237.00" x2="154.30" y2="237.00" stroke="#000" stroke-width="2.0" stroke-linecap="butt"/>
<line x1="158.50" y1="221.00" x2="158.50" y2="239.00" stroke="#000" stroke-width="2.0" stroke-linecap="butt"/>
<line x1="155.20" y1="221.00" x2="161.80" y2="221.00" stroke="#000" stroke-width="2.0" stroke-linecap="butt"/>
<line x1="155.20" y1="239.00" x2="161.80" y2="239.00" stroke="#000" stroke-width="2.0" stroke-linecap="butt"/>
<line x1="166.00" y1="223.50" x2="166.00" y2="241.50" stroke="#000" stroke-width="2.0" stroke-linecap="butt"/>
<line x1="162.70" y1="223.50" x2="169.30" y2="223.50" stroke="#000" stroke-width="2.0" stroke-linecap="butt"/>
<line x1="162.70" y1="241.50" x2="169.30" y2="241.50" stroke="#000" stroke-width="2.0" stroke-linecap="butt"/>
<line x1="173.50" y1="229.00" x2="173.50" y2="249.00" stroke="#000" stroke-width="2.0" stroke-linecap="butt"/>
<line x1="170.20" y1="229.00" x2="176.80" y2="229.00" stroke="#000" stroke-width="2.0" stroke-linecap="butt"/>
<line x1="170.20" y1="249.00" x2="176.80" y2="249.00" stroke="#000" stroke-width="2.0" stroke-linecap="butt"/>
<line x1="181.00" y1="248.00" x2="181.00" y2="268.00" stroke="#000" stroke-width="2.0" stroke-linecap="butt"/>
<line x1="177.70" y1="248.00" x2="184.30" y2="248.00" stroke="#000" stroke-width="2.0" stroke-linecap="butt"/>
<line x1="177.70" y1="268.00" x2="184.30" y2="268.00" stroke="#000" stroke-width="2.0" stroke-linecap="butt"/>
<line x1="188.50" y1="270.00" x2="188.50" y2="290.00" stroke="#000" stroke-width="2.0" stroke-linecap="butt"/>
<line x1="185.20" y1="270.00" x2="191.80" y2="270.00" stroke="#000" stroke-width="2.0" stroke-linecap="butt"/>
<line x1="185.20" y1="290.00" x2="191.80" y2="290.00" stroke="#000" stroke-width="2.0" stroke-linecap="butt"/>
<line x1="196.00" y1="291.00" x2="196.00" y2="309.00" stroke="#000" stroke-width="2.0" stroke-linecap="butt"/>
<line x1="192.70" y1="291.00" x2="199.30" y2="291.00" stroke="#000" stroke-width="2.0" stroke-linecap="butt"/>
<line x1="192.70" y1="309.00" x2="199.30" y2="309.00" stroke="#000" stroke-width="2.0" stroke-linecap="butt"/>
<line x1="203.50" y1="309.00" x2="203.50" y2="327.00" stroke="#000" stroke-width="2.0" stroke-linecap="butt"/>
<line x1="200.20" y1="309.00" x2="206.80" y2="309.00" stroke="#000" stroke-width="2.0" stroke-linecap="butt"/>
<line x1="200.20" y1="327.00" x2="206.80" y2="327.00" stroke="#000" stroke-width="2.0" stroke-linecap="butt"/>
<line x1="211.00" y1="324.00" x2="211.00" y2="340.00" stroke="#000" stroke-width="2.0" stroke-linecap="butt"/>
<line x1="207.70" y1="324.00" x2="214.30" y2="324.00" stroke="#000" stroke-width="2.0" stroke-linecap="butt"/>
<line x1="207.70" y1="340.00" x2="214.30" y2="340.00" stroke="#000" stroke-width="2.0" stroke-linecap="butt"/>
<line x1="218.50" y1="337.00" x2="218.50" y2="351.00" stroke="#000" stroke-width="2.0" stroke-linecap="butt"/>
<line x1="215.20" y1="337.00" x2="221.80" y2="337.00" stroke="#000" stroke-width="2.0" stroke-linecap="butt"/>
<line x1="215.20" y1="351.00" x2="221.80" y2="351.00" stroke="#000" stroke-width="2.0" stroke-linecap="butt"/>
<line x1="226.00" y1="348.00" x2="226.00" y2="360.00" stroke="#000" stroke-width="2.0" stroke-linecap="butt"/>
<line x1="222.70" y1="348.00" x2="229.30" y2="348.00" stroke="#000" stroke-width="2.0" stroke-linecap="butt"/>
<line x1="222.70" y1="360.00" x2="229.30" y2="360.00" stroke="#000" stroke-width="2.0" stroke-linecap="butt"/>
<line x1="233.50" y1="358.00" x2="233.50" y2="368.00" stroke="#000" stroke-width="2.0" stroke-linecap="butt"/>
<line x1="230.20" y1="358.00" x2="236.80" y2="358.00" stroke="#000" stroke-width="2.0" stroke-linecap="butt"/>
<line x1="230.20" y1="368.00" x2="236.80" y2="368.00" stroke="#000" stroke-width="2.0" stroke-linecap="butt"/>
<line x1="241.00" y1="365.50" x2="241.00" y2="375.50" stroke="#000" stroke-width="2.0" stroke-linecap="butt"/>
<line x1="237.70" y1="365.50" x2="244.30" y2="365.50" stroke="#000" stroke-width="2.0" stroke-linecap="butt"/>
<line x1="237.70" y1="375.50" x2="244.30" y2="375.50" stroke="#000" stroke-width="2.0" stroke-linecap="butt"/>
<rect x="113.70" y="386.60" width="11.4" height="11.4" fill="#000"/>
<rect x="128.70" y="386.60" width="11.4" height="11.4" fill="#000"/>
<rect x="143.70" y="386.60" width="11.4" height="11.4" fill="#000"/>
<rect x="158.90" y="386.30" width="11.4" height="11.4" fill="#000"/>
<rect x="174.90" y="372.30" width="11.4" height="11.4" fill="#000"/>
<rect x="189.30" y="360.80" width="11.4" height="11.4" fill="#000"/>
<rect x="204.30" y="354.30" width="11.4" height="11.4" fill="#000"/>
<rect x="216.30" y="351.80" width="11.4" height="11.4" fill="#000"/>
<rect x="224.30" y="350.30" width="11.4" height="11.4" fill="#000"/>
<rect x="231.80" y="349.90" width="11.4" height="11.4" fill="#000"/>
<rect x="239.20" y="350.71" width="11.4" height="11.4" fill="#000"/>
<rect x="246.60" y="352.48" width="11.4" height="11.4" fill="#000"/>
<rect x="254.00" y="352.73" width="11.4" height="11.4" fill="#000"/>
<rect x="261.40" y="354.84" width="11.4" height="11.4" fill="#000"/>
<rect x="268.80" y="356.34" width="11.4" height="11.4" fill="#000"/>
<rect x="276.20" y="357.65" width="11.4" height="11.4" fill="#000"/>
<rect x="283.60" y="360.03" width="11.4" height="11.4" fill="#000"/>
<rect x="291.00" y="361.16" width="11.4" height="11.4" fill="#000"/>
<rect x="298.40" y="363.51" width="11.4" height="11.4" fill="#000"/>
<rect x="305.80" y="364.80" width="11.4" height="11.4" fill="#000"/>
<rect x="313.20" y="366.35" width="11.4" height="11.4" fill="#000"/>
<rect x="320.60" y="368.31" width="11.4" height="11.4" fill="#000"/>
<rect x="328.00" y="370.37" width="11.4" height="11.4" fill="#000"/>
<rect x="335.40" y="370.77" width="11.4" height="11.4" fill="#000"/>
<rect x="342.80" y="372.29" width="11.4" height="11.4" fill="#000"/>
<rect x="350.20" y="374.23" width="11.4" height="11.4" fill="#000"/>
<rect x="357.60" y="376.00" width="11.4" height="11.4" fill="#000"/>
<rect x="365.00" y="376.80" width="11.4" height="11.4" fill="#000"/>
<rect x="372.40" y="377.86" width="11.4" height="11.4" fill="#000"/>
<rect x="379.80" y="379.59" width="11.4" height="11.4" fill="#000"/>
<rect x="387.20" y="379.13" width="11.4" height="11.4" fill="#000"/>
<rect x="394.60" y="381.10" width="11.4" height="11.4" fill="#000"/>
<rect x="402.00" y="380.77" width="11.4" height="11.4" fill="#000"/>
<rect x="409.40" y="380.92" width="11.4" height="11.4" fill="#000"/>
<rect x="416.80" y="381.24" width="11.4" height="11.4" fill="#000"/>
<rect x="424.20" y="381.74" width="11.4" height="11.4" fill="#000"/>
<rect x="431.60" y="382.63" width="11.4" height="11.4" fill="#000"/>
<rect x="439.00" y="381.93" width="11.4" height="11.4" fill="#000"/>
<rect x="446.40" y="382.68" width="11.4" height="11.4" fill="#000"/>
<rect x="453.80" y="382.95" width="11.4" height="11.4" fill="#000"/>
<rect x="461.20" y="383.14" width="11.4" height="11.4" fill="#000"/>
<rect x="468.60" y="383.98" width="11.4" height="11.4" fill="#000"/>
<rect x="476.00" y="383.90" width="11.4" height="11.4" fill="#000"/>
<rect x="483.40" y="384.35" width="11.4" height="11.4" fill="#000"/>
<rect x="490.80" y="384.64" width="11.4" height="11.4" fill="#000"/>
<rect x="498.20" y="385.38" width="11.4" height="11.4" fill="#000"/>
<rect x="505.60" y="385.11" width="11.4" height="11.4" fill="#000"/>
<circle cx="115.20" cy="386.00" r="5.2" fill="#000"/>
<circle cx="122.50" cy="174.25" r="5.2" fill="#000"/>
<circle cx="130.00" cy="47.50" r="5.2" fill="#000"/>
<circle cx="137.50" cy="78.25" r="5.2" fill="#000"/>
<circle cx="144.50" cy="113.75" r="5.2" fill="#000"/>
<circle cx="152.00" cy="173.75" r="5.2" fill="#000"/>
<circle cx="159.50" cy="214.50" r="5.2" fill="#000"/>
<circle cx="167.00" cy="266.25" r="5.2" fill="#000"/>
<circle cx="173.75" cy="297.00" r="5.2" fill="#000"/>
<circle cx="182.50" cy="330.00" r="5.2" fill="#000"/>
<circle cx="189.50" cy="347.50" r="5.2" fill="#000"/>
<circle cx="197.50" cy="359.50" r="5.2" fill="#000"/>
<circle cx="205.00" cy="372.00" r="5.2" fill="#000"/>
<circle cx="212.50" cy="378.75" r="5.2" fill="#000"/>
<circle cx="220.00" cy="382.50" r="5.2" fill="#000"/>
<circle cx="227.40" cy="387.23" r="5.2" fill="#000"/>
<circle cx="234.80" cy="387.99" r="5.2" fill="#000"/>
<circle cx="242.20" cy="389.14" r="5.2" fill="#000"/>
<circle cx="249.60" cy="390.12" r="5.2" fill="#000"/>
<circle cx="257.00" cy="389.89" r="5.2" fill="#000"/>
<circle cx="264.40" cy="390.48" r="5.2" fill="#000"/>
<circle cx="271.80" cy="391.57" r="5.2" fill="#000"/>
<circle cx="279.20" cy="391.30" r="5.2" fill="#000"/>
<circle cx="286.60" cy="391.59" r="5.2" fill="#000"/>
<circle cx="294.00" cy="391.18" r="5.2" fill="#000"/>
<circle cx="301.40" cy="391.55" r="5.2" fill="#000"/>
<circle cx="308.80" cy="392.36" r="5.2" fill="#000"/>
<circle cx="316.20" cy="391.31" r="5.2" fill="#000"/>
<circle cx="323.60" cy="392.78" r="5.2" fill="#000"/>
<circle cx="331.00" cy="392.33" r="5.2" fill="#000"/>
<circle cx="338.40" cy="391.82" r="5.2" fill="#000"/>
<circle cx="345.80" cy="392.83" r="5.2" fill="#000"/>
<circle cx="353.20" cy="392.31" r="5.2" fill="#000"/>
<circle cx="360.60" cy="393.06" r="5.2" fill="#000"/>
<circle cx="368.00" cy="392.04" r="5.2" fill="#000"/>
<circle cx="375.40" cy="391.90" r="5.2" fill="#000"/>
<circle cx="382.80" cy="392.22" r="5.2" fill="#000"/>
<circle cx="390.20" cy="391.73" r="5.2" fill="#000"/>
<circle cx="397.60" cy="392.65" r="5.2" fill="#000"/>
<circle cx="405.00" cy="392.03" r="5.2" fill="#000"/>
<circle cx="412.40" cy="392.20" r="5.2" fill="#000"/>
<circle cx="419.80" cy="392.23" r="5.2" fill="#000"/>
<circle cx="427.20" cy="392.43" r="5.2" fill="#000"/>
<circle cx="434.60" cy="391.81" r="5.2" fill="#000"/>
<circle cx="442.00" cy="391.64" r="5.2" fill="#000"/>
<circle cx="449.40" cy="392.40" r="5.2" fill="#000"/>
<circle cx="456.80" cy="392.10" r="5.2" fill="#000"/>
<circle cx="464.20" cy="393.08" r="5.2" fill="#000"/>
<circle cx="471.60" cy="392.04" r="5.2" fill="#000"/>
<circle cx="479.00" cy="392.12" r="5.2" fill="#000"/>
<circle cx="486.40" cy="391.56" r="5.2" fill="#000"/>
<circle cx="493.80" cy="391.84" r="5.2" fill="#000"/>
<circle cx="501.20" cy="392.72" r="5.2" fill="#000"/>
<circle cx="508.60" cy="392.55" r="5.2" fill="#000"/>
<polygon points="116.50,379.68 110.75,391.18 122.25,391.18" fill="#000"/>
<polygon points="123.75,347.43 118.00,358.93 129.50,358.93" fill="#000"/>
<polygon points="130.00,292.43 124.25,303.93 135.75,303.93" fill="#000"/>
<polygon points="137.50,246.18 131.75,257.68 143.25,257.68" fill="#000"/>
<polygon points="145.00,225.68 139.25,237.18 150.75,237.18" fill="#000"/>
<polygon points="152.50,222.68 146.75,234.18 158.25,234.18" fill="#000"/>
<polygon points="160.00,223.68 154.25,235.18 165.75,235.18" fill="#000"/>
<polygon points="167.50,226.18 161.75,237.68 173.25,237.68" fill="#000"/>
<polygon points="175.00,232.68 169.25,244.18 180.75,244.18" fill="#000"/>
<polygon points="182.50,251.68 176.75,263.18 188.25,263.18" fill="#000"/>
<polygon points="190.00,273.68 184.25,285.18 195.75,285.18" fill="#000"/>
<polygon points="197.50,293.68 191.75,305.18 203.25,305.18" fill="#000"/>
<polygon points="205.00,311.68 199.25,323.18 210.75,323.18" fill="#000"/>
<polygon points="212.50,325.68 206.75,337.18 218.25,337.18" fill="#000"/>
<polygon points="220.00,337.68 214.25,349.18 225.75,349.18" fill="#000"/>
<polygon points="227.50,347.68 221.75,359.18 233.25,359.18" fill="#000"/>
<polygon points="235.00,356.68 229.25,368.18 240.75,368.18" fill="#000"/>
<polygon points="242.50,364.18 236.75,375.68 248.25,375.68" fill="#000"/>
<polygon points="250.00,369.68 244.25,381.18 255.75,381.18" fill="#000"/>
<polygon points="257.40,372.14 251.65,383.64 263.15,383.64" fill="#000"/>
<polygon points="264.80,373.84 259.05,385.34 270.55,385.34" fill="#000"/>
<polygon points="272.20,377.11 266.45,388.61 277.95,388.61" fill="#000"/>
<polygon points="279.60,379.02 273.85,390.52 285.35,390.52" fill="#000"/>
<polygon points="287.00,380.74 281.25,392.24 292.75,392.24" fill="#000"/>
<polygon points="294.40,381.87 288.65,393.37 300.15,393.37" fill="#000"/>
<polygon points="301.80,383.11 296.05,394.61 307.55,394.61" fill="#000"/>
<polygon points="309.20,382.10 303.45,393.60 314.95,393.60" fill="#000"/>
<polygon points="316.60,382.30 310.85,393.80 322.35,393.80" fill="#000"/>
<polygon points="324.00,382.54 318.25,394.04 329.75,394.04" fill="#000"/>
<polygon points="331.40,383.32 325.65,394.82 337.15,394.82" fill="#000"/>
<polygon points="338.80,382.06 333.05,393.56 344.55,393.56" fill="#000"/>
<polygon points="346.20,382.66 340.45,394.16 351.95,394.16" fill="#000"/>
<polygon points="353.60,382.83 347.85,394.33 359.35,394.33" fill="#000"/>
<polygon points="361.00,383.38 355.25,394.88 366.75,394.88" fill="#000"/>
<polygon points="368.40,383.28 362.65,394.78 374.15,394.78" fill="#000"/>
<polygon points="375.80,383.37 370.05,394.87 381.55,394.87" fill="#000"/>
<polygon points="383.20,379.44 377.45,390.94 388.95,390.94" fill="#000"/>
<polygon points="390.60,382.67 384.85,394.17 396.35,394.17" fill="#000"/>
<polygon points="398.00,382.59 392.25,394.09 403.75,394.09" fill="#000"/>
<polygon points="405.40,383.44 399.65,394.94 411.15,394.94" fill="#000"/>
<polygon points="412.80,383.56 407.05,395.06 418.55,395.06" fill="#000"/>
<polygon points="420.20,379.28 414.45,390.78 425.95,390.78" fill="#000"/>
<polygon points="427.60,382.33 421.85,393.83 433.35,393.83" fill="#000"/>
<polygon points="435.00,382.43 429.25,393.93 440.75,393.93" fill="#000"/>
<polygon points="442.40,382.44 436.65,393.94 448.15,393.94" fill="#000"/>
<polygon points="449.80,382.86 444.05,394.36 455.55,394.36" fill="#000"/>
<polygon points="457.20,380.03 451.45,391.53 462.95,391.53" fill="#000"/>
<polygon points="464.60,382.52 458.85,394.02 470.35,394.02" fill="#000"/>
<polygon points="472.00,382.12 466.25,393.62 477.75,393.62" fill="#000"/>
<polygon points="479.40,382.79 473.65,394.29 485.15,394.29" fill="#000"/>
<polygon points="486.80,382.72 481.05,394.22 492.55,394.22" fill="#000"/>
<polygon points="494.20,380.05 488.45,391.55 499.95,391.55" fill="#000"/>
<polygon points="501.60,383.68 495.85,395.18 507.35,395.18" fill="#000"/>
<polygon points="509.00,383.27 503.25,394.77 514.75,394.77" fill="#000"/>
<polygon points="116.00,371.25 121.75,377.50 116.00,383.75 110.25,377.50" fill="#000"/>
<polygon points="124.00,369.75 129.75,376.00 124.00,382.25 118.25,376.00" fill="#000"/>
<polygon points="131.25,326.25 137.00,332.50 131.25,338.75 125.50,332.50" fill="#000"/>
<polygon points="138.75,268.75 144.50,275.00 138.75,281.25 133.00,275.00" fill="#000"/>
<polygon points="146.50,231.75 152.25,238.00 146.50,244.25 140.75,238.00" fill="#000"/>
<polygon points="154.00,217.75 159.75,224.00 154.00,230.25 148.25,224.00" fill="#000"/>
<polygon points="161.50,219.75 167.25,226.00 161.50,232.25 155.75,226.00" fill="#000"/>
<polygon points="169.00,224.75 174.75,231.00 169.00,237.25 163.25,231.00" fill="#000"/>
<polygon points="176.50,237.75 182.25,244.00 176.50,250.25 170.75,244.00" fill="#000"/>
<polygon points="184.50,251.25 190.25,257.50 184.50,263.75 178.75,257.50" fill="#000"/>
<polygon points="191.00,266.75 196.75,273.00 191.00,279.25 185.25,273.00" fill="#000"/>
<polygon points="198.00,283.75 203.75,290.00 198.00,296.25 192.25,290.00" fill="#000"/>
<polygon points="205.50,302.75 211.25,309.00 205.50,315.25 199.75,309.00" fill="#000"/>
<polygon points="213.00,319.75 218.75,326.00 213.00,332.25 207.25,326.00" fill="#000"/>
<polygon points="220.50,333.75 226.25,340.00 220.50,346.25 214.75,340.00" fill="#000"/>
<polygon points="228.00,343.75 233.75,350.00 228.00,356.25 222.25,350.00" fill="#000"/>
<polygon points="235.50,352.75 241.25,359.00 235.50,365.25 229.75,359.00" fill="#000"/>
<polygon points="243.00,360.75 248.75,367.00 243.00,373.25 237.25,367.00" fill="#000"/>
<polygon points="250.50,366.75 256.25,373.00 250.50,379.25 244.75,373.00" fill="#000"/>
<polygon points="258.00,370.27 263.75,376.52 258.00,382.77 252.25,376.52" fill="#000"/>
<polygon points="265.40,373.14 271.15,379.39 265.40,385.64 259.65,379.39" fill="#000"/>
<polygon points="272.80,376.03 278.55,382.28 272.80,388.53 267.05,382.28" fill="#000"/>
<polygon points="280.20,377.74 285.95,383.99 280.20,390.24 274.45,383.99" fill="#000"/>
<polygon points="287.60,381.09 293.35,387.34 287.60,393.59 281.85,387.34" fill="#000"/>
<polygon points="295.00,382.40 300.75,388.65 295.00,394.90 289.25,388.65" fill="#000"/>
<polygon points="302.40,382.56 308.15,388.81 302.40,395.06 296.65,388.81" fill="#000"/>
<polygon points="309.80,382.45 315.55,388.70 309.80,394.95 304.05,388.70" fill="#000"/>
<polygon points="317.20,381.82 322.95,388.07 317.20,394.32 311.45,388.07" fill="#000"/>
<polygon points="324.60,381.84 330.35,388.09 324.60,394.34 318.85,388.09" fill="#000"/>
<polygon points="332.00,381.38 337.75,387.63 332.00,393.88 326.25,387.63" fill="#000"/>
<polygon points="339.40,382.24 345.15,388.49 339.40,394.74 333.65,388.49" fill="#000"/>
<polygon points="346.80,381.34 352.55,387.59 346.80,393.84 341.05,387.59" fill="#000"/>
<polygon points="354.20,381.36 359.95,387.61 354.20,393.86 348.45,387.61" fill="#000"/>
<polygon points="361.60,381.60 367.35,387.85 361.60,394.10 355.85,387.85" fill="#000"/>
<polygon points="369.00,381.54 374.75,387.79 369.00,394.04 363.25,387.79" fill="#000"/>
<polygon points="376.40,378.34 382.15,384.59 376.40,390.84 370.65,384.59" fill="#000"/>
<polygon points="383.80,381.39 389.55,387.64 383.80,393.89 378.05,387.64" fill="#000"/>
<polygon points="391.20,381.32 396.95,387.57 391.20,393.82 385.45,387.57" fill="#000"/>
<polygon points="398.60,381.58 404.35,387.83 398.60,394.08 392.85,387.83" fill="#000"/>
<polygon points="406.00,381.51 411.75,387.76 406.00,394.01 400.25,387.76" fill="#000"/>
<polygon points="413.40,381.94 419.15,388.19 413.40,394.44 407.65,388.19" fill="#000"/>
<polygon points="420.80,377.91 426.55,384.16 420.80,390.41 415.05,384.16" fill="#000"/>
<polygon points="428.20,382.79 433.95,389.04 428.20,395.29 422.45,389.04" fill="#000"/>
<polygon points="435.60,382.38 441.35,388.63 435.60,394.88 429.85,388.63" fill="#000"/>
<polygon points="443.00,381.65 448.75,387.90 443.00,394.15 437.25,387.90" fill="#000"/>
<polygon points="450.40,381.83 456.15,388.08 450.40,394.33 444.65,388.08" fill="#000"/>
<polygon points="457.80,382.00 463.55,388.25 457.80,394.50 452.05,388.25" fill="#000"/>
<polygon points="465.20,378.54 470.95,384.79 465.20,391.04 459.45,384.79" fill="#000"/>
<polygon points="472.60,381.66 478.35,387.91 472.60,394.16 466.85,387.91" fill="#000"/>
<polygon points="480.00,382.84 485.75,389.09 480.00,395.34 474.25,389.09" fill="#000"/>
<polygon points="487.40,383.08 493.15,389.33 487.40,395.58 481.65,389.33" fill="#000"/>
<polygon points="494.80,382.25 500.55,388.50 494.80,394.75 489.05,388.50" fill="#000"/>
<polygon points="502.20,382.29 507.95,388.54 502.20,394.79 496.45,388.54" fill="#000"/>
<polygon points="509.60,378.17 515.35,384.42 509.60,390.67 503.85,384.42" fill="#000"/>
<circle cx="457.70" cy="378.00" r="5" fill="#000"/>
<circle cx="423.00" cy="385.20" r="5" fill="#000"/>
<circle cx="444.60" cy="386.00" r="5" fill="#000"/>
<polygon points="486.80,375.05 492.55,381.30 486.80,387.55 481.05,381.30" fill="#000"/>
<circle cx="398.00" cy="386.50" r="5" fill="#000"/>
<polygon points="471.50,378.18 465.75,389.68 477.25,389.68" fill="#000"/>
<line x1="506.00" y1="385.00" x2="516.00" y2="374.00" stroke="#000" stroke-width="2.2" stroke-linecap="butt"/>
<line x1="506.00" y1="384.00" x2="516.00" y2="392.00" stroke="#000" stroke-width="2.2" stroke-linecap="butt"/>
</g>
<rect x="110.3" y="30.5" width="403.7" height="362.5" fill="none" stroke="#000" stroke-width="2"/>
<line x1="110.30" y1="302.38" x2="116.80" y2="302.38" stroke="#000" stroke-width="2" stroke-linecap="butt"/>
<line x1="507.50" y1="302.38" x2="514.00" y2="302.38" stroke="#000" stroke-width="2" stroke-linecap="butt"/>
<line x1="110.30" y1="211.75" x2="116.80" y2="211.75" stroke="#000" stroke-width="2" stroke-linecap="butt"/>
<line x1="507.50" y1="211.75" x2="514.00" y2="211.75" stroke="#000" stroke-width="2" stroke-linecap="butt"/>
<line x1="110.30" y1="121.12" x2="116.80" y2="121.12" stroke="#000" stroke-width="2" stroke-linecap="butt"/>
<line x1="507.50" y1="121.12" x2="514.00" y2="121.12" stroke="#000" stroke-width="2" stroke-linecap="butt"/>
<line x1="200.00" y1="30.50" x2="200.00" y2="36.50" stroke="#000" stroke-width="2" stroke-linecap="butt"/>
<line x1="289.70" y1="30.50" x2="289.70" y2="36.50" stroke="#000" stroke-width="2" stroke-linecap="butt"/>
<line x1="379.40" y1="30.50" x2="379.40" y2="36.50" stroke="#000" stroke-width="2" stroke-linecap="butt"/>
<line x1="469.10" y1="30.50" x2="469.10" y2="36.50" stroke="#000" stroke-width="2" stroke-linecap="butt"/>
<text transform="translate(2.15,20.90) scale(0.2597,0.2545)" font-size="100" font-weight="bold" fill="#111" stroke="#111" stroke-width="0.78">A</text>
<text transform="translate(52.53,32.55) scale(0.2747,0.2530)" font-size="100" fill="#111" stroke="#111" stroke-width="0.76">200</text>
<text transform="translate(54.65,122.65) scale(0.2605,0.2530)" font-size="100" fill="#111" stroke="#111" stroke-width="0.78">150</text>
<text transform="translate(54.64,213.45) scale(0.2617,0.2530)" font-size="100" fill="#111" stroke="#111" stroke-width="0.78">100</text>
<text transform="translate(68.84,304.25) scale(0.2654,0.2544)" font-size="100" fill="#111" stroke="#111" stroke-width="0.77">50</text>
<text transform="translate(83.27,395.65) scale(0.2827,0.2530)" font-size="100" fill="#111" stroke="#111" stroke-width="0.75">0</text>
<text transform="translate(101.26,417.84) scale(0.2848,0.2643)" font-size="100" fill="#111" stroke="#111" stroke-width="0.73">0</text>
<text transform="translate(182.16,417.84) scale(0.2689,0.2643)" font-size="100" fill="#111" stroke="#111" stroke-width="0.75">20</text>
<text transform="translate(273.22,417.84) scale(0.2600,0.2643)" font-size="100" fill="#111" stroke="#111" stroke-width="0.76">40</text>
<text transform="translate(362.18,417.84) scale(0.2631,0.2643)" font-size="100" fill="#111" stroke="#111" stroke-width="0.76">60</text>
<text transform="translate(452.35,417.84) scale(0.2699,0.2643)" font-size="100" fill="#111" stroke="#111" stroke-width="0.75">80</text>
<text transform="translate(247.18,444.19) scale(0.2746,0.2799)" font-size="100" fill="#111" stroke="#111" stroke-width="0.72">Time (min)</text>
<text transform="translate(45.62,299.91) rotate(-90) scale(0.2715,0.2595)" font-size="100" fill="#111" stroke="#111" stroke-width="0.75">Thrombin (nM)</text>
<rect x="255.4" y="53.2" width="235.4" height="180.55" fill="#fff" stroke="#222" stroke-width="1.2"/>
<rect x="260.9" y="231.7" width="47.35" height="2.05" fill="#898989" stroke="#2a2a2a" stroke-width="1.2"/>
<rect x="319.6" y="228.3" width="47.70" height="5.45" fill="#898989" stroke="#2a2a2a" stroke-width="1.2"/>
<rect x="378.8" y="209.2" width="47.50" height="24.55" fill="#898989" stroke="#2a2a2a" stroke-width="1.2"/>
<rect x="438" y="89.5" width="47.30" height="144.25" fill="#898989" stroke="#2a2a2a" stroke-width="1.2"/>
<line x1="461.40" y1="58.30" x2="461.40" y2="120.80" stroke="#1a1a1a" stroke-width="1.5" stroke-linecap="butt"/>
<line x1="458.70" y1="58.30" x2="464.10" y2="58.30" stroke="#1a1a1a" stroke-width="1.5" stroke-linecap="butt"/>
<line x1="458.70" y1="120.80" x2="464.10" y2="120.80" stroke="#1a1a1a" stroke-width="1.5" stroke-linecap="butt"/>
<line x1="402.70" y1="204.60" x2="402.70" y2="213.80" stroke="#1a1a1a" stroke-width="1.5" stroke-linecap="butt"/>
<line x1="400.00" y1="204.60" x2="405.40" y2="204.60" stroke="#1a1a1a" stroke-width="1.5" stroke-linecap="butt"/>
<line x1="400.00" y1="213.80" x2="405.40" y2="213.80" stroke="#1a1a1a" stroke-width="1.5" stroke-linecap="butt"/>
<line x1="343.50" y1="225.80" x2="343.50" y2="230.60" stroke="#1a1a1a" stroke-width="1.5" stroke-linecap="butt"/>
<line x1="340.80" y1="225.80" x2="346.20" y2="225.80" stroke="#1a1a1a" stroke-width="1.5" stroke-linecap="butt"/>
<line x1="340.80" y1="230.60" x2="346.20" y2="230.60" stroke="#1a1a1a" stroke-width="1.5" stroke-linecap="butt"/>
<line x1="284.50" y1="229.60" x2="284.50" y2="232.40" stroke="#1a1a1a" stroke-width="1.5" stroke-linecap="butt"/>
<line x1="281.80" y1="229.60" x2="287.20" y2="229.60" stroke="#1a1a1a" stroke-width="1.5" stroke-linecap="butt"/>
<line x1="281.80" y1="232.40" x2="287.20" y2="232.40" stroke="#1a1a1a" stroke-width="1.5" stroke-linecap="butt"/>
<line x1="255.40" y1="194.50" x2="259.40" y2="194.50" stroke="#222" stroke-width="1.2" stroke-linecap="butt"/>
<line x1="486.60" y1="194.50" x2="490.80" y2="194.50" stroke="#222" stroke-width="1.2" stroke-linecap="butt"/>
<line x1="255.40" y1="155.25" x2="259.40" y2="155.25" stroke="#222" stroke-width="1.2" stroke-linecap="butt"/>
<line x1="486.60" y1="155.25" x2="490.80" y2="155.25" stroke="#222" stroke-width="1.2" stroke-linecap="butt"/>
<line x1="255.40" y1="116.00" x2="259.40" y2="116.00" stroke="#222" stroke-width="1.2" stroke-linecap="butt"/>
<line x1="486.60" y1="116.00" x2="490.80" y2="116.00" stroke="#222" stroke-width="1.2" stroke-linecap="butt"/>
<line x1="255.40" y1="76.75" x2="259.40" y2="76.75" stroke="#222" stroke-width="1.2" stroke-linecap="butt"/>
<line x1="486.60" y1="76.75" x2="490.80" y2="76.75" stroke="#222" stroke-width="1.2" stroke-linecap="butt"/>
<line x1="314.30" y1="53.20" x2="314.30" y2="57.20" stroke="#222" stroke-width="1.2" stroke-linecap="butt"/>
<line x1="314.30" y1="229.75" x2="314.30" y2="233.75" stroke="#222" stroke-width="1.2" stroke-linecap="butt"/>
<line x1="373.10" y1="53.20" x2="373.10" y2="57.20" stroke="#222" stroke-width="1.2" stroke-linecap="butt"/>
<line x1="373.10" y1="229.75" x2="373.10" y2="233.75" stroke="#222" stroke-width="1.2" stroke-linecap="butt"/>
<line x1="432.30" y1="53.20" x2="432.30" y2="57.20" stroke="#222" stroke-width="1.2" stroke-linecap="butt"/>
<line x1="432.30" y1="229.75" x2="432.30" y2="233.75" stroke="#222" stroke-width="1.2" stroke-linecap="butt"/>
<text transform="translate(229.64,80.48) scale(0.1323,0.1244)" font-size="100" fill="#222" stroke="#222" stroke-width="0.78">200</text>
<text transform="translate(230.75,119.77) scale(0.1260,0.1300)" font-size="100" fill="#222" stroke="#222" stroke-width="0.78">150</text>
<text transform="translate(230.75,158.97) scale(0.1260,0.1300)" font-size="100" fill="#222" stroke="#222" stroke-width="0.78">100</text>
<text transform="translate(237.27,198.67) scale(0.1327,0.1329)" font-size="100" fill="#222" stroke="#222" stroke-width="0.75">50</text>
<text transform="translate(244.45,237.67) scale(0.1382,0.1286)" font-size="100" fill="#222" stroke="#222" stroke-width="0.75">0</text>
<text transform="translate(280.46,247.67) scale(0.1361,0.1300)" font-size="100" fill="#222" stroke="#222" stroke-width="0.75">0</text>
<text transform="translate(330.47,247.67) scale(0.1319,0.1300)" font-size="100" fill="#222" stroke="#222" stroke-width="0.76">0.01</text>
<text transform="translate(392.77,247.67) scale(0.1321,0.1300)" font-size="100" fill="#222" stroke="#222" stroke-width="0.76">0.1</text>
<text transform="translate(458.11,247.80) scale(0.0925,0.1338)" font-size="100" fill="#222" stroke="#222" stroke-width="0.88">1</text>
<text transform="translate(344.08,263.67) scale(0.1360,0.1333)" font-size="100" fill="#222" stroke="#222" stroke-width="0.74">nM TNFα</text>
<text transform="translate(225.73,212.10) rotate(-90) scale(0.1325,0.1287)" font-size="100" fill="#222" stroke="#222" stroke-width="0.77">Xa Generation (pM/min)</text>
<clipPath id="cb"><rect x="112.4" y="485.3" width="400.1" height="352.7"/></clipPath>
<g clip-path="url(#cb)">
<polyline points="112.40,830.00 117.00,829.00 120.50,827.00 129.25,742.50 142.50,597.50 155.75,546.25 168.75,534.50 182.00,531.75 195.00,530.00 208.00,528.75 221.25,527.70 234.25,527.30 247.40,526.82 260.55,526.34 273.70,525.86 286.85,525.38 300.00,524.90 313.15,524.43 326.30,523.95 339.45,523.47 352.60,522.99 365.75,522.51 378.90,522.21 392.05,521.92 405.20,521.62 418.35,521.33 431.50,521.03 444.65,520.74 457.80,520.44 470.95,520.15 484.10,519.86 497.25,519.56" fill="none" stroke="#000" stroke-width="2.2" stroke-linejoin="round"/>
<polyline points="112.40,830.00 122.00,829.00 133.75,787.50 147.50,693.75 158.75,635.00 171.25,601.00 186.25,578.75 198.75,562.00 212.00,550.75 223.75,542.50 233.50,538.30 243.00,536.48 256.12,535.02 269.24,534.41 282.36,533.81 295.48,533.21 308.60,532.78 321.72,532.44 334.84,532.10 347.96,531.76 361.08,531.43 374.20,531.18 387.32,530.98 400.44,530.79 413.56,530.59 426.68,530.39 439.80,530.20 452.92,530.00 466.04,529.81 479.16,529.61 492.28,529.42 505.40,529.22" fill="none" stroke="#000" stroke-width="2.2" stroke-linejoin="round"/>
<polyline points="112.40,830.00 124.50,829.00 130.00,813.00 143.75,752.50 157.00,675.00 169.50,620.00 183.00,585.00 196.00,565.00 209.30,552.00 222.50,544.00 236.20,537.85 249.32,534.67 262.44,533.88 275.56,533.22 288.68,532.57 301.80,531.95 314.92,531.62 328.04,531.28 341.16,530.94 354.28,530.60 367.40,530.28 380.52,530.05 393.64,529.83 406.76,529.60 419.88,529.38 433.00,529.15 446.12,528.92 459.24,528.70 472.36,528.47 485.48,528.25 498.60,528.02" fill="none" stroke="#000" stroke-width="2.2" stroke-linejoin="round"/>
<polyline points="116.25,829.25 129.42,829.25 142.59,829.25 155.76,829.25 168.93,829.25 182.10,829.25 195.27,829.25 208.44,829.25 221.61,828.00 234.78,825.00 247.95,801.00 261.12,767.50 274.29,720.00 287.46,669.00 300.63,622.50 313.80,587.50 326.97,567.70 340.14,557.20 353.31,551.60 366.48,548.40 379.65,546.50 392.82,545.40 405.99,544.60 419.16,543.80 432.33,543.40 445.50,543.10 458.67,542.80 471.84,542.50 485.01,542.20 498.18,541.90" fill="none" stroke="#000" stroke-width="2.2" stroke-linejoin="round"/>
<line x1="138.25" y1="582.01" x2="138.25" y2="706.01" stroke="#000" stroke-width="2.0" stroke-linecap="butt"/>
<line x1="134.95" y1="582.01" x2="141.55" y2="582.01" stroke="#000" stroke-width="2.0" stroke-linecap="butt"/>
<line x1="134.95" y1="706.01" x2="141.55" y2="706.01" stroke="#000" stroke-width="2.0" stroke-linecap="butt"/>
<line x1="151.38" y1="534.40" x2="151.38" y2="591.90" stroke="#000" stroke-width="2.0" stroke-linecap="butt"/>
<line x1="148.08" y1="534.40" x2="154.68" y2="534.40" stroke="#000" stroke-width="2.0" stroke-linecap="butt"/>
<line x1="148.08" y1="591.90" x2="154.68" y2="591.90" stroke="#000" stroke-width="2.0" stroke-linecap="butt"/>
<line x1="164.51" y1="520.73" x2="164.51" y2="555.93" stroke="#000" stroke-width="2.0" stroke-linecap="butt"/>
<line x1="161.21" y1="520.73" x2="167.81" y2="520.73" stroke="#000" stroke-width="2.0" stroke-linecap="butt"/>
<line x1="161.21" y1="555.93" x2="167.81" y2="555.93" stroke="#000" stroke-width="2.0" stroke-linecap="butt"/>
<line x1="177.64" y1="516.15" x2="177.64" y2="549.15" stroke="#000" stroke-width="2.0" stroke-linecap="butt"/>
<line x1="174.34" y1="516.15" x2="180.94" y2="516.15" stroke="#000" stroke-width="2.0" stroke-linecap="butt"/>
<line x1="174.34" y1="549.15" x2="180.94" y2="549.15" stroke="#000" stroke-width="2.0" stroke-linecap="butt"/>
<line x1="190.77" y1="514.27" x2="190.77" y2="546.87" stroke="#000" stroke-width="2.0" stroke-linecap="butt"/>
<line x1="187.47" y1="514.27" x2="194.07" y2="514.27" stroke="#000" stroke-width="2.0" stroke-linecap="butt"/>
<line x1="187.47" y1="546.87" x2="194.07" y2="546.87" stroke="#000" stroke-width="2.0" stroke-linecap="butt"/>
<line x1="203.90" y1="512.84" x2="203.90" y2="545.44" stroke="#000" stroke-width="2.0" stroke-linecap="butt"/>
<line x1="200.60" y1="512.84" x2="207.20" y2="512.84" stroke="#000" stroke-width="2.0" stroke-linecap="butt"/>
<line x1="200.60" y1="545.44" x2="207.20" y2="545.44" stroke="#000" stroke-width="2.0" stroke-linecap="butt"/>
<line x1="217.03" y1="511.53" x2="217.03" y2="544.53" stroke="#000" stroke-width="2.0" stroke-linecap="butt"/>
<line x1="213.73" y1="511.53" x2="220.33" y2="511.53" stroke="#000" stroke-width="2.0" stroke-linecap="butt"/>
<line x1="213.73" y1="544.53" x2="220.33" y2="544.53" stroke="#000" stroke-width="2.0" stroke-linecap="butt"/>
<line x1="213.83" y1="519.03" x2="220.23" y2="519.03" stroke="#000" stroke-width="1.6" stroke-linecap="butt"/>
<line x1="230.16" y1="510.94" x2="230.16" y2="543.91" stroke="#000" stroke-width="2.0" stroke-linecap="butt"/>
<line x1="226.86" y1="510.94" x2="233.46" y2="510.94" stroke="#000" stroke-width="2.0" stroke-linecap="butt"/>
<line x1="226.86" y1="543.91" x2="233.46" y2="543.91" stroke="#000" stroke-width="2.0" stroke-linecap="butt"/>
<line x1="226.96" y1="518.44" x2="233.36" y2="518.44" stroke="#000" stroke-width="1.6" stroke-linecap="butt"/>
<line x1="243.29" y1="510.71" x2="243.29" y2="543.24" stroke="#000" stroke-width="2.0" stroke-linecap="butt"/>
<line x1="239.99" y1="510.71" x2="246.59" y2="510.71" stroke="#000" stroke-width="2.0" stroke-linecap="butt"/>
<line x1="239.99" y1="543.24" x2="246.59" y2="543.24" stroke="#000" stroke-width="2.0" stroke-linecap="butt"/>
<line x1="240.09" y1="518.21" x2="246.49" y2="518.21" stroke="#000" stroke-width="1.6" stroke-linecap="butt"/>
<line x1="256.42" y1="510.44" x2="256.42" y2="542.54" stroke="#000" stroke-width="2.0" stroke-linecap="butt"/>
<line x1="253.12" y1="510.44" x2="259.72" y2="510.44" stroke="#000" stroke-width="2.0" stroke-linecap="butt"/>
<line x1="253.12" y1="542.54" x2="259.72" y2="542.54" stroke="#000" stroke-width="2.0" stroke-linecap="butt"/>
<line x1="253.22" y1="517.94" x2="259.62" y2="517.94" stroke="#000" stroke-width="1.6" stroke-linecap="butt"/>
<line x1="269.55" y1="510.18" x2="269.55" y2="541.84" stroke="#000" stroke-width="2.0" stroke-linecap="butt"/>
<line x1="266.25" y1="510.18" x2="272.85" y2="510.18" stroke="#000" stroke-width="2.0" stroke-linecap="butt"/>
<line x1="266.25" y1="541.84" x2="272.85" y2="541.84" stroke="#000" stroke-width="2.0" stroke-linecap="butt"/>
<line x1="266.35" y1="517.68" x2="272.75" y2="517.68" stroke="#000" stroke-width="1.6" stroke-linecap="butt"/>
<line x1="282.68" y1="509.92" x2="282.68" y2="541.15" stroke="#000" stroke-width="2.0" stroke-linecap="butt"/>
<line x1="279.38" y1="509.92" x2="285.98" y2="509.92" stroke="#000" stroke-width="2.0" stroke-linecap="butt"/>
<line x1="279.38" y1="541.15" x2="285.98" y2="541.15" stroke="#000" stroke-width="2.0" stroke-linecap="butt"/>
<line x1="279.48" y1="517.42" x2="285.88" y2="517.42" stroke="#000" stroke-width="1.6" stroke-linecap="butt"/>
<line x1="295.81" y1="509.66" x2="295.81" y2="540.45" stroke="#000" stroke-width="2.0" stroke-linecap="butt"/>
<line x1="292.51" y1="509.66" x2="299.11" y2="509.66" stroke="#000" stroke-width="2.0" stroke-linecap="butt"/>
<line x1="292.51" y1="540.45" x2="299.11" y2="540.45" stroke="#000" stroke-width="2.0" stroke-linecap="butt"/>
<line x1="292.61" y1="517.16" x2="299.01" y2="517.16" stroke="#000" stroke-width="1.6" stroke-linecap="butt"/>
<line x1="308.94" y1="509.40" x2="308.94" y2="539.76" stroke="#000" stroke-width="2.0" stroke-linecap="butt"/>
<line x1="305.64" y1="509.40" x2="312.24" y2="509.40" stroke="#000" stroke-width="2.0" stroke-linecap="butt"/>
<line x1="305.64" y1="539.76" x2="312.24" y2="539.76" stroke="#000" stroke-width="2.0" stroke-linecap="butt"/>
<line x1="305.74" y1="516.90" x2="312.14" y2="516.90" stroke="#000" stroke-width="1.6" stroke-linecap="butt"/>
<line x1="322.07" y1="509.14" x2="322.07" y2="539.06" stroke="#000" stroke-width="2.0" stroke-linecap="butt"/>
<line x1="318.77" y1="509.14" x2="325.37" y2="509.14" stroke="#000" stroke-width="2.0" stroke-linecap="butt"/>
<line x1="318.77" y1="539.06" x2="325.37" y2="539.06" stroke="#000" stroke-width="2.0" stroke-linecap="butt"/>
<line x1="318.87" y1="516.64" x2="325.27" y2="516.64" stroke="#000" stroke-width="1.6" stroke-linecap="butt"/>
<line x1="335.20" y1="508.88" x2="335.20" y2="538.37" stroke="#000" stroke-width="2.0" stroke-linecap="butt"/>
<line x1="331.90" y1="508.88" x2="338.50" y2="508.88" stroke="#000" stroke-width="2.0" stroke-linecap="butt"/>
<line x1="331.90" y1="538.37" x2="338.50" y2="538.37" stroke="#000" stroke-width="2.0" stroke-linecap="butt"/>
<line x1="332.00" y1="516.38" x2="338.40" y2="516.38" stroke="#000" stroke-width="1.6" stroke-linecap="butt"/>
<line x1="348.33" y1="508.62" x2="348.33" y2="537.67" stroke="#000" stroke-width="2.0" stroke-linecap="butt"/>
<line x1="345.03" y1="508.62" x2="351.63" y2="508.62" stroke="#000" stroke-width="2.0" stroke-linecap="butt"/>
<line x1="345.03" y1="537.67" x2="351.63" y2="537.67" stroke="#000" stroke-width="2.0" stroke-linecap="butt"/>
<line x1="345.13" y1="516.12" x2="351.53" y2="516.12" stroke="#000" stroke-width="1.6" stroke-linecap="butt"/>
<line x1="361.46" y1="508.27" x2="361.46" y2="537.06" stroke="#000" stroke-width="2.0" stroke-linecap="butt"/>
<line x1="358.16" y1="508.27" x2="364.76" y2="508.27" stroke="#000" stroke-width="2.0" stroke-linecap="butt"/>
<line x1="358.16" y1="537.06" x2="364.76" y2="537.06" stroke="#000" stroke-width="2.0" stroke-linecap="butt"/>
<line x1="358.26" y1="515.77" x2="364.66" y2="515.77" stroke="#000" stroke-width="1.6" stroke-linecap="butt"/>
<line x1="374.59" y1="508.03" x2="374.59" y2="536.59" stroke="#000" stroke-width="2.0" stroke-linecap="butt"/>
<line x1="371.29" y1="508.03" x2="377.89" y2="508.03" stroke="#000" stroke-width="2.0" stroke-linecap="butt"/>
<line x1="371.29" y1="536.59" x2="377.89" y2="536.59" stroke="#000" stroke-width="2.0" stroke-linecap="butt"/>
<line x1="371.39" y1="515.53" x2="377.79" y2="515.53" stroke="#000" stroke-width="1.6" stroke-linecap="butt"/>
<line x1="387.72" y1="507.85" x2="387.72" y2="536.17" stroke="#000" stroke-width="2.0" stroke-linecap="butt"/>
<line x1="384.42" y1="507.85" x2="391.02" y2="507.85" stroke="#000" stroke-width="2.0" stroke-linecap="butt"/>
<line x1="384.42" y1="536.17" x2="391.02" y2="536.17" stroke="#000" stroke-width="2.0" stroke-linecap="butt"/>
<line x1="384.52" y1="515.35" x2="390.92" y2="515.35" stroke="#000" stroke-width="1.6" stroke-linecap="butt"/>
<line x1="400.85" y1="507.68" x2="400.85" y2="535.76" stroke="#000" stroke-width="2.0" stroke-linecap="butt"/>
<line x1="397.55" y1="507.68" x2="404.15" y2="507.68" stroke="#000" stroke-width="2.0" stroke-linecap="butt"/>
<line x1="397.55" y1="535.76" x2="404.15" y2="535.76" stroke="#000" stroke-width="2.0" stroke-linecap="butt"/>
<line x1="397.65" y1="515.18" x2="404.05" y2="515.18" stroke="#000" stroke-width="1.6" stroke-linecap="butt"/>
<line x1="413.98" y1="507.50" x2="413.98" y2="535.35" stroke="#000" stroke-width="2.0" stroke-linecap="butt"/>
<line x1="410.68" y1="507.50" x2="417.28" y2="507.50" stroke="#000" stroke-width="2.0" stroke-linecap="butt"/>
<line x1="410.68" y1="535.35" x2="417.28" y2="535.35" stroke="#000" stroke-width="2.0" stroke-linecap="butt"/>
<line x1="410.78" y1="515.00" x2="417.18" y2="515.00" stroke="#000" stroke-width="1.6" stroke-linecap="butt"/>
<line x1="427.11" y1="507.33" x2="427.11" y2="534.94" stroke="#000" stroke-width="2.0" stroke-linecap="butt"/>
<line x1="423.81" y1="507.33" x2="430.41" y2="507.33" stroke="#000" stroke-width="2.0" stroke-linecap="butt"/>
<line x1="423.81" y1="534.94" x2="430.41" y2="534.94" stroke="#000" stroke-width="2.0" stroke-linecap="butt"/>
<line x1="423.91" y1="514.83" x2="430.31" y2="514.83" stroke="#000" stroke-width="1.6" stroke-linecap="butt"/>
<line x1="440.24" y1="507.15" x2="440.24" y2="534.52" stroke="#000" stroke-width="2.0" stroke-linecap="butt"/>
<line x1="436.94" y1="507.15" x2="443.54" y2="507.15" stroke="#000" stroke-width="2.0" stroke-linecap="butt"/>
<line x1="436.94" y1="534.52" x2="443.54" y2="534.52" stroke="#000" stroke-width="2.0" stroke-linecap="butt"/>
<line x1="437.04" y1="514.65" x2="443.44" y2="514.65" stroke="#000" stroke-width="1.6" stroke-linecap="butt"/>
<line x1="453.37" y1="506.98" x2="453.37" y2="534.11" stroke="#000" stroke-width="2.0" stroke-linecap="butt"/>
<line x1="450.07" y1="506.98" x2="456.67" y2="506.98" stroke="#000" stroke-width="2.0" stroke-linecap="butt"/>
<line x1="450.07" y1="534.11" x2="456.67" y2="534.11" stroke="#000" stroke-width="2.0" stroke-linecap="butt"/>
<line x1="450.17" y1="514.48" x2="456.57" y2="514.48" stroke="#000" stroke-width="1.6" stroke-linecap="butt"/>
<line x1="466.50" y1="506.80" x2="466.50" y2="533.70" stroke="#000" stroke-width="2.0" stroke-linecap="butt"/>
<line x1="463.20" y1="506.80" x2="469.80" y2="506.80" stroke="#000" stroke-width="2.0" stroke-linecap="butt"/>
<line x1="463.20" y1="533.70" x2="469.80" y2="533.70" stroke="#000" stroke-width="2.0" stroke-linecap="butt"/>
<line x1="463.30" y1="514.30" x2="469.70" y2="514.30" stroke="#000" stroke-width="1.6" stroke-linecap="butt"/>
<line x1="479.63" y1="506.63" x2="479.63" y2="533.29" stroke="#000" stroke-width="2.0" stroke-linecap="butt"/>
<line x1="476.33" y1="506.63" x2="482.93" y2="506.63" stroke="#000" stroke-width="2.0" stroke-linecap="butt"/>
<line x1="476.33" y1="533.29" x2="482.93" y2="533.29" stroke="#000" stroke-width="2.0" stroke-linecap="butt"/>
<line x1="476.43" y1="514.13" x2="482.83" y2="514.13" stroke="#000" stroke-width="1.6" stroke-linecap="butt"/>
<line x1="492.76" y1="506.45" x2="492.76" y2="532.87" stroke="#000" stroke-width="2.0" stroke-linecap="butt"/>
<line x1="489.46" y1="506.45" x2="496.06" y2="506.45" stroke="#000" stroke-width="2.0" stroke-linecap="butt"/>
<line x1="489.46" y1="532.87" x2="496.06" y2="532.87" stroke="#000" stroke-width="2.0" stroke-linecap="butt"/>
<line x1="489.56" y1="513.95" x2="495.96" y2="513.95" stroke="#000" stroke-width="1.6" stroke-linecap="butt"/>
<line x1="505.89" y1="506.46" x2="505.89" y2="532.66" stroke="#000" stroke-width="2.0" stroke-linecap="butt"/>
<line x1="502.59" y1="506.46" x2="509.19" y2="506.46" stroke="#000" stroke-width="2.0" stroke-linecap="butt"/>
<line x1="502.59" y1="532.66" x2="509.19" y2="532.66" stroke="#000" stroke-width="2.0" stroke-linecap="butt"/>
<line x1="502.69" y1="513.96" x2="509.09" y2="513.96" stroke="#000" stroke-width="1.6" stroke-linecap="butt"/>
<line x1="165.00" y1="618.00" x2="165.00" y2="677.50" stroke="#000" stroke-width="2.0" stroke-linecap="butt"/>
<line x1="161.70" y1="677.50" x2="168.30" y2="677.50" stroke="#000" stroke-width="2.0" stroke-linecap="butt"/>
<line x1="177.50" y1="591.73" x2="177.50" y2="632.00" stroke="#000" stroke-width="2.0" stroke-linecap="butt"/>
<line x1="174.20" y1="632.00" x2="180.80" y2="632.00" stroke="#000" stroke-width="2.0" stroke-linecap="butt"/>
<line x1="190.75" y1="572.72" x2="190.75" y2="595.00" stroke="#000" stroke-width="2.0" stroke-linecap="butt"/>
<line x1="187.45" y1="595.00" x2="194.05" y2="595.00" stroke="#000" stroke-width="2.0" stroke-linecap="butt"/>
<line x1="203.75" y1="557.75" x2="203.75" y2="575.00" stroke="#000" stroke-width="2.0" stroke-linecap="butt"/>
<line x1="200.45" y1="575.00" x2="207.05" y2="575.00" stroke="#000" stroke-width="2.0" stroke-linecap="butt"/>
<line x1="217.00" y1="547.24" x2="217.00" y2="567.00" stroke="#000" stroke-width="2.0" stroke-linecap="butt"/>
<line x1="213.70" y1="567.00" x2="220.30" y2="567.00" stroke="#000" stroke-width="2.0" stroke-linecap="butt"/>
<line x1="230.20" y1="539.72" x2="230.20" y2="558.00" stroke="#000" stroke-width="2.0" stroke-linecap="butt"/>
<line x1="226.90" y1="558.00" x2="233.50" y2="558.00" stroke="#000" stroke-width="2.0" stroke-linecap="butt"/>
<line x1="243.50" y1="536.42" x2="243.50" y2="552.00" stroke="#000" stroke-width="2.0" stroke-linecap="butt"/>
<line x1="240.20" y1="552.00" x2="246.80" y2="552.00" stroke="#000" stroke-width="2.0" stroke-linecap="butt"/>
<line x1="256.40" y1="535.01" x2="256.40" y2="548.00" stroke="#000" stroke-width="2.0" stroke-linecap="butt"/>
<line x1="253.10" y1="548.00" x2="259.70" y2="548.00" stroke="#000" stroke-width="2.0" stroke-linecap="butt"/>
<line x1="269.60" y1="534.40" x2="269.60" y2="545.50" stroke="#000" stroke-width="2.0" stroke-linecap="butt"/>
<line x1="266.30" y1="545.50" x2="272.90" y2="545.50" stroke="#000" stroke-width="2.0" stroke-linecap="butt"/>
<line x1="282.50" y1="533.80" x2="282.50" y2="544.00" stroke="#000" stroke-width="2.0" stroke-linecap="butt"/>
<line x1="279.20" y1="544.00" x2="285.80" y2="544.00" stroke="#000" stroke-width="2.0" stroke-linecap="butt"/>
<line x1="295.80" y1="533.20" x2="295.80" y2="543.00" stroke="#000" stroke-width="2.0" stroke-linecap="butt"/>
<line x1="292.50" y1="543.00" x2="299.10" y2="543.00" stroke="#000" stroke-width="2.0" stroke-linecap="butt"/>
<line x1="308.70" y1="532.78" x2="308.70" y2="542.70" stroke="#000" stroke-width="2.0" stroke-linecap="butt"/>
<line x1="305.40" y1="542.70" x2="312.00" y2="542.70" stroke="#000" stroke-width="2.0" stroke-linecap="butt"/>
<line x1="322.00" y1="532.43" x2="322.00" y2="542.50" stroke="#000" stroke-width="2.0" stroke-linecap="butt"/>
<line x1="318.70" y1="542.50" x2="325.30" y2="542.50" stroke="#000" stroke-width="2.0" stroke-linecap="butt"/>
<line x1="335.00" y1="532.10" x2="335.00" y2="541.20" stroke="#000" stroke-width="2.0" stroke-linecap="butt"/>
<line x1="331.70" y1="541.20" x2="338.30" y2="541.20" stroke="#000" stroke-width="2.0" stroke-linecap="butt"/>
<line x1="348.00" y1="531.76" x2="348.00" y2="540.00" stroke="#000" stroke-width="2.0" stroke-linecap="butt"/>
<line x1="344.70" y1="540.00" x2="351.30" y2="540.00" stroke="#000" stroke-width="2.0" stroke-linecap="butt"/>
<line x1="231.28" y1="826.00" x2="231.28" y2="836.00" stroke="#000" stroke-width="2.0" stroke-linecap="butt"/>
<line x1="227.98" y1="826.00" x2="234.58" y2="826.00" stroke="#000" stroke-width="2.0" stroke-linecap="butt"/>
<line x1="227.98" y1="836.00" x2="234.58" y2="836.00" stroke="#000" stroke-width="2.0" stroke-linecap="butt"/>
<line x1="244.45" y1="798.00" x2="244.45" y2="816.00" stroke="#000" stroke-width="2.0" stroke-linecap="butt"/>
<line x1="241.15" y1="798.00" x2="247.75" y2="798.00" stroke="#000" stroke-width="2.0" stroke-linecap="butt"/>
<line x1="241.15" y1="816.00" x2="247.75" y2="816.00" stroke="#000" stroke-width="2.0" stroke-linecap="butt"/>
<line x1="257.62" y1="759.50" x2="257.62" y2="787.50" stroke="#000" stroke-width="2.0" stroke-linecap="butt"/>
<line x1="254.32" y1="759.50" x2="260.92" y2="759.50" stroke="#000" stroke-width="2.0" stroke-linecap="butt"/>
<line x1="254.32" y1="787.50" x2="260.92" y2="787.50" stroke="#000" stroke-width="2.0" stroke-linecap="butt"/>
<line x1="270.79" y1="708.00" x2="270.79" y2="744.00" stroke="#000" stroke-width="2.0" stroke-linecap="butt"/>
<line x1="267.49" y1="708.00" x2="274.09" y2="708.00" stroke="#000" stroke-width="2.0" stroke-linecap="butt"/>
<line x1="267.49" y1="744.00" x2="274.09" y2="744.00" stroke="#000" stroke-width="2.0" stroke-linecap="butt"/>
<line x1="283.96" y1="655.00" x2="283.96" y2="695.00" stroke="#000" stroke-width="2.0" stroke-linecap="butt"/>
<line x1="280.66" y1="655.00" x2="287.26" y2="655.00" stroke="#000" stroke-width="2.0" stroke-linecap="butt"/>
<line x1="280.66" y1="695.00" x2="287.26" y2="695.00" stroke="#000" stroke-width="2.0" stroke-linecap="butt"/>
<line x1="297.13" y1="612.50" x2="297.13" y2="644.50" stroke="#000" stroke-width="2.0" stroke-linecap="butt"/>
<line x1="293.83" y1="612.50" x2="300.43" y2="612.50" stroke="#000" stroke-width="2.0" stroke-linecap="butt"/>
<line x1="293.83" y1="644.50" x2="300.43" y2="644.50" stroke="#000" stroke-width="2.0" stroke-linecap="butt"/>
<line x1="310.30" y1="582.50" x2="310.30" y2="604.50" stroke="#000" stroke-width="2.0" stroke-linecap="butt"/>
<line x1="307.00" y1="582.50" x2="313.60" y2="582.50" stroke="#000" stroke-width="2.0" stroke-linecap="butt"/>
<line x1="307.00" y1="604.50" x2="313.60" y2="604.50" stroke="#000" stroke-width="2.0" stroke-linecap="butt"/>
<line x1="323.47" y1="565.70" x2="323.47" y2="581.70" stroke="#000" stroke-width="2.0" stroke-linecap="butt"/>
<line x1="320.17" y1="565.70" x2="326.77" y2="565.70" stroke="#000" stroke-width="2.0" stroke-linecap="butt"/>
<line x1="320.17" y1="581.70" x2="326.77" y2="581.70" stroke="#000" stroke-width="2.0" stroke-linecap="butt"/>
<line x1="336.64" y1="557.20" x2="336.64" y2="569.20" stroke="#000" stroke-width="2.0" stroke-linecap="butt"/>
<line x1="333.34" y1="557.20" x2="339.94" y2="557.20" stroke="#000" stroke-width="2.0" stroke-linecap="butt"/>
<line x1="333.34" y1="569.20" x2="339.94" y2="569.20" stroke="#000" stroke-width="2.0" stroke-linecap="butt"/>
<line x1="349.81" y1="552.60" x2="349.81" y2="562.60" stroke="#000" stroke-width="2.0" stroke-linecap="butt"/>
<line x1="346.51" y1="552.60" x2="353.11" y2="552.60" stroke="#000" stroke-width="2.0" stroke-linecap="butt"/>
<line x1="346.51" y1="562.60" x2="353.11" y2="562.60" stroke="#000" stroke-width="2.0" stroke-linecap="butt"/>
<line x1="362.98" y1="550.40" x2="362.98" y2="558.40" stroke="#000" stroke-width="2.0" stroke-linecap="butt"/>
<line x1="359.68" y1="550.40" x2="366.28" y2="550.40" stroke="#000" stroke-width="2.0" stroke-linecap="butt"/>
<line x1="359.68" y1="558.40" x2="366.28" y2="558.40" stroke="#000" stroke-width="2.0" stroke-linecap="butt"/>
<line x1="125.50" y1="781.00" x2="125.50" y2="812.00" stroke="#000" stroke-width="2.0" stroke-linecap="butt"/>
<line x1="122.20" y1="781.00" x2="128.80" y2="781.00" stroke="#000" stroke-width="2.0" stroke-linecap="butt"/>
<line x1="122.20" y1="812.00" x2="128.80" y2="812.00" stroke="#000" stroke-width="2.0" stroke-linecap="butt"/>
<line x1="139.50" y1="722.00" x2="139.50" y2="757.00" stroke="#000" stroke-width="2.0" stroke-linecap="butt"/>
<line x1="136.20" y1="722.00" x2="142.80" y2="722.00" stroke="#000" stroke-width="2.0" stroke-linecap="butt"/>
<line x1="136.20" y1="757.00" x2="142.80" y2="757.00" stroke="#000" stroke-width="2.0" stroke-linecap="butt"/>
<line x1="150.50" y1="689.00" x2="150.50" y2="731.00" stroke="#000" stroke-width="2.0" stroke-linecap="butt"/>
<line x1="147.20" y1="689.00" x2="153.80" y2="689.00" stroke="#000" stroke-width="2.0" stroke-linecap="butt"/>
<line x1="147.20" y1="731.00" x2="153.80" y2="731.00" stroke="#000" stroke-width="2.0" stroke-linecap="butt"/>
<rect x="110.65" y="823.65" width="11.2" height="11.2" fill="#000"/>
<rect x="123.82" y="823.65" width="11.2" height="11.2" fill="#000"/>
<rect x="136.99" y="823.65" width="11.2" height="11.2" fill="#000"/>
<rect x="150.16" y="823.65" width="11.2" height="11.2" fill="#000"/>
<rect x="163.33" y="823.65" width="11.2" height="11.2" fill="#000"/>
<rect x="176.50" y="823.65" width="11.2" height="11.2" fill="#000"/>
<rect x="189.67" y="823.65" width="11.2" height="11.2" fill="#000"/>
<rect x="202.84" y="823.65" width="11.2" height="11.2" fill="#000"/>
<rect x="216.01" y="822.40" width="11.2" height="11.2" fill="#000"/>
<rect x="229.18" y="819.40" width="11.2" height="11.2" fill="#000"/>
<rect x="242.35" y="795.40" width="11.2" height="11.2" fill="#000"/>
<rect x="255.52" y="761.90" width="11.2" height="11.2" fill="#000"/>
<rect x="268.69" y="714.40" width="11.2" height="11.2" fill="#000"/>
<rect x="281.86" y="663.40" width="11.2" height="11.2" fill="#000"/>
<rect x="295.03" y="616.90" width="11.2" height="11.2" fill="#000"/>
<rect x="308.20" y="581.90" width="11.2" height="11.2" fill="#000"/>
<rect x="321.37" y="562.10" width="11.2" height="11.2" fill="#000"/>
<rect x="334.54" y="551.60" width="11.2" height="11.2" fill="#000"/>
<rect x="347.71" y="546.00" width="11.2" height="11.2" fill="#000"/>
<rect x="360.88" y="542.80" width="11.2" height="11.2" fill="#000"/>
<rect x="374.05" y="540.90" width="11.2" height="11.2" fill="#000"/>
<rect x="387.22" y="539.80" width="11.2" height="11.2" fill="#000"/>
<rect x="400.39" y="539.00" width="11.2" height="11.2" fill="#000"/>
<rect x="413.56" y="538.20" width="11.2" height="11.2" fill="#000"/>
<rect x="426.73" y="537.80" width="11.2" height="11.2" fill="#000"/>
<rect x="439.90" y="537.50" width="11.2" height="11.2" fill="#000"/>
<rect x="453.07" y="537.20" width="11.2" height="11.2" fill="#000"/>
<rect x="466.24" y="536.90" width="11.2" height="11.2" fill="#000"/>
<rect x="479.41" y="536.60" width="11.2" height="11.2" fill="#000"/>
<rect x="492.58" y="536.30" width="11.2" height="11.2" fill="#000"/>
<circle cx="117.00" cy="829.00" r="5.1" fill="#000"/>
<circle cx="120.50" cy="827.00" r="5.1" fill="#000"/>
<circle cx="129.25" cy="742.50" r="5.1" fill="#000"/>
<circle cx="142.50" cy="597.50" r="5.1" fill="#000"/>
<circle cx="155.75" cy="546.25" r="5.1" fill="#000"/>
<circle cx="168.75" cy="534.50" r="5.1" fill="#000"/>
<circle cx="182.00" cy="531.75" r="5.1" fill="#000"/>
<circle cx="195.00" cy="530.00" r="5.1" fill="#000"/>
<circle cx="208.00" cy="528.75" r="5.1" fill="#000"/>
<circle cx="221.25" cy="527.70" r="5.1" fill="#000"/>
<circle cx="234.25" cy="527.30" r="5.1" fill="#000"/>
<circle cx="247.40" cy="526.82" r="5.1" fill="#000"/>
<circle cx="260.55" cy="526.34" r="5.1" fill="#000"/>
<circle cx="273.70" cy="525.86" r="5.1" fill="#000"/>
<circle cx="286.85" cy="525.38" r="5.1" fill="#000"/>
<circle cx="300.00" cy="524.90" r="5.1" fill="#000"/>
<circle cx="313.15" cy="524.43" r="5.1" fill="#000"/>
<circle cx="326.30" cy="523.95" r="5.1" fill="#000"/>
<circle cx="339.45" cy="523.47" r="5.1" fill="#000"/>
<circle cx="352.60" cy="522.99" r="5.1" fill="#000"/>
<circle cx="365.75" cy="522.51" r="5.1" fill="#000"/>
<circle cx="378.90" cy="522.21" r="5.1" fill="#000"/>
<circle cx="392.05" cy="521.92" r="5.1" fill="#000"/>
<circle cx="405.20" cy="521.62" r="5.1" fill="#000"/>
<circle cx="418.35" cy="521.33" r="5.1" fill="#000"/>
<circle cx="431.50" cy="521.03" r="5.1" fill="#000"/>
<circle cx="444.65" cy="520.74" r="5.1" fill="#000"/>
<circle cx="457.80" cy="520.44" r="5.1" fill="#000"/>
<circle cx="470.95" cy="520.15" r="5.1" fill="#000"/>
<circle cx="484.10" cy="519.86" r="5.1" fill="#000"/>
<circle cx="497.25" cy="519.56" r="5.1" fill="#000"/>
<polygon points="117.50,823.25 122.75,829.00 117.50,834.75 112.25,829.00" fill="#000"/>
<polygon points="130.00,807.25 135.25,813.00 130.00,818.75 124.75,813.00" fill="#000"/>
<polygon points="143.75,746.75 149.00,752.50 143.75,758.25 138.50,752.50" fill="#000"/>
<polygon points="157.00,669.25 162.25,675.00 157.00,680.75 151.75,675.00" fill="#000"/>
<polygon points="169.50,614.25 174.75,620.00 169.50,625.75 164.25,620.00" fill="#000"/>
<polygon points="183.00,579.25 188.25,585.00 183.00,590.75 177.75,585.00" fill="#000"/>
<polygon points="196.00,559.25 201.25,565.00 196.00,570.75 190.75,565.00" fill="#000"/>
<polygon points="209.30,546.25 214.55,552.00 209.30,557.75 204.05,552.00" fill="#000"/>
<polygon points="222.50,538.25 227.75,544.00 222.50,549.75 217.25,544.00" fill="#000"/>
<polygon points="236.20,532.10 241.45,537.85 236.20,543.60 230.95,537.85" fill="#000"/>
<polygon points="249.32,528.92 254.57,534.67 249.32,540.42 244.07,534.67" fill="#000"/>
<polygon points="262.44,528.13 267.69,533.88 262.44,539.63 257.19,533.88" fill="#000"/>
<polygon points="275.56,527.47 280.81,533.22 275.56,538.97 270.31,533.22" fill="#000"/>
<polygon points="288.68,526.82 293.93,532.57 288.68,538.32 283.43,532.57" fill="#000"/>
<polygon points="301.80,526.20 307.05,531.95 301.80,537.70 296.55,531.95" fill="#000"/>
<polygon points="314.92,525.87 320.17,531.62 314.92,537.37 309.67,531.62" fill="#000"/>
<polygon points="328.04,525.53 333.29,531.28 328.04,537.03 322.79,531.28" fill="#000"/>
<polygon points="341.16,525.19 346.41,530.94 341.16,536.69 335.91,530.94" fill="#000"/>
<polygon points="354.28,524.85 359.53,530.60 354.28,536.35 349.03,530.60" fill="#000"/>
<polygon points="367.40,524.53 372.65,530.28 367.40,536.03 362.15,530.28" fill="#000"/>
<polygon points="380.52,524.30 385.77,530.05 380.52,535.80 375.27,530.05" fill="#000"/>
<polygon points="393.64,524.08 398.89,529.83 393.64,535.58 388.39,529.83" fill="#000"/>
<polygon points="406.76,523.85 412.01,529.60 406.76,535.35 401.51,529.60" fill="#000"/>
<polygon points="419.88,523.63 425.13,529.38 419.88,535.13 414.63,529.38" fill="#000"/>
<polygon points="433.00,523.40 438.25,529.15 433.00,534.90 427.75,529.15" fill="#000"/>
<polygon points="446.12,523.17 451.37,528.92 446.12,534.67 440.87,528.92" fill="#000"/>
<polygon points="459.24,522.95 464.49,528.70 459.24,534.45 453.99,528.70" fill="#000"/>
<polygon points="472.36,522.72 477.61,528.47 472.36,534.22 467.11,528.47" fill="#000"/>
<polygon points="485.48,522.50 490.73,528.25 485.48,534.00 480.23,528.25" fill="#000"/>
<polygon points="498.60,522.27 503.85,528.02 498.60,533.77 493.35,528.02" fill="#000"/>
<polygon points="120.50,817.75 111.75,832.75 129.25,832.75" fill="#000"/>
<polygon points="133.75,779.25 125.00,794.25 142.50,794.25" fill="#000"/>
<polygon points="147.50,685.50 138.75,700.50 156.25,700.50" fill="#000"/>
<polygon points="158.75,626.75 150.00,641.75 167.50,641.75" fill="#000"/>
<polygon points="171.25,592.75 162.50,607.75 180.00,607.75" fill="#000"/>
<polygon points="186.25,570.50 177.50,585.50 195.00,585.50" fill="#000"/>
<polygon points="198.75,553.75 190.00,568.75 207.50,568.75" fill="#000"/>
<polygon points="212.00,542.50 203.25,557.50 220.75,557.50" fill="#000"/>
<polygon points="223.75,534.25 215.00,549.25 232.50,549.25" fill="#000"/>
<polygon points="233.50,530.05 224.75,545.05 242.25,545.05" fill="#000"/>
<polygon points="243.00,528.23 234.25,543.23 251.75,543.23" fill="#000"/>
<polygon points="256.12,526.77 247.37,541.77 264.87,541.77" fill="#000"/>
<polygon points="269.24,526.16 260.49,541.16 277.99,541.16" fill="#000"/>
<polygon points="282.36,525.56 273.61,540.56 291.11,540.56" fill="#000"/>
<polygon points="295.48,524.96 286.73,539.96 304.23,539.96" fill="#000"/>
<polygon points="308.60,524.53 299.85,539.53 317.35,539.53" fill="#000"/>
<polygon points="321.72,524.19 312.97,539.19 330.47,539.19" fill="#000"/>
<polygon points="334.84,523.85 326.09,538.85 343.59,538.85" fill="#000"/>
<polygon points="347.96,523.51 339.21,538.51 356.71,538.51" fill="#000"/>
<polygon points="361.08,523.18 352.33,538.18 369.83,538.18" fill="#000"/>
<polygon points="374.20,522.93 365.45,537.93 382.95,537.93" fill="#000"/>
<polygon points="387.32,522.73 378.57,537.73 396.07,537.73" fill="#000"/>
<polygon points="400.44,522.54 391.69,537.54 409.19,537.54" fill="#000"/>
<polygon points="413.56,522.34 404.81,537.34 422.31,537.34" fill="#000"/>
<polygon points="426.68,522.14 417.93,537.14 435.43,537.14" fill="#000"/>
<polygon points="439.80,521.95 431.05,536.95 448.55,536.95" fill="#000"/>
<polygon points="452.92,521.75 444.17,536.75 461.67,536.75" fill="#000"/>
<polygon points="466.04,521.56 457.29,536.56 474.79,536.56" fill="#000"/>
<polygon points="479.16,521.36 470.41,536.36 487.91,536.36" fill="#000"/>
<polygon points="492.28,521.17 483.53,536.17 501.03,536.17" fill="#000"/>
<polygon points="505.40,520.97 496.65,535.97 514.15,535.97" fill="#000"/>
</g>
<rect x="112.4" y="485.3" width="394.1" height="352.7" fill="none" stroke="#000" stroke-width="2"/>
<line x1="112.40" y1="767.34" x2="118.90" y2="767.34" stroke="#000" stroke-width="2" stroke-linecap="butt"/>
<line x1="500.00" y1="767.34" x2="506.50" y2="767.34" stroke="#000" stroke-width="2" stroke-linecap="butt"/>
<line x1="112.40" y1="696.83" x2="118.90" y2="696.83" stroke="#000" stroke-width="2" stroke-linecap="butt"/>
<line x1="500.00" y1="696.83" x2="506.50" y2="696.83" stroke="#000" stroke-width="2" stroke-linecap="butt"/>
<line x1="112.40" y1="626.32" x2="118.90" y2="626.32" stroke="#000" stroke-width="2" stroke-linecap="butt"/>
<line x1="500.00" y1="626.32" x2="506.50" y2="626.32" stroke="#000" stroke-width="2" stroke-linecap="butt"/>
<line x1="112.40" y1="555.81" x2="118.90" y2="555.81" stroke="#000" stroke-width="2" stroke-linecap="butt"/>
<line x1="500.00" y1="555.81" x2="506.50" y2="555.81" stroke="#000" stroke-width="2" stroke-linecap="butt"/>
<line x1="178.08" y1="485.30" x2="178.08" y2="490.80" stroke="#000" stroke-width="2" stroke-linecap="butt"/>
<line x1="178.08" y1="832.50" x2="178.08" y2="838.00" stroke="#000" stroke-width="2" stroke-linecap="butt"/>
<line x1="243.76" y1="485.30" x2="243.76" y2="490.80" stroke="#000" stroke-width="2" stroke-linecap="butt"/>
<line x1="243.76" y1="832.50" x2="243.76" y2="838.00" stroke="#000" stroke-width="2" stroke-linecap="butt"/>
<line x1="309.44" y1="485.30" x2="309.44" y2="490.80" stroke="#000" stroke-width="2" stroke-linecap="butt"/>
<line x1="309.44" y1="832.50" x2="309.44" y2="838.00" stroke="#000" stroke-width="2" stroke-linecap="butt"/>
<line x1="375.12" y1="485.30" x2="375.12" y2="490.80" stroke="#000" stroke-width="2" stroke-linecap="butt"/>
<line x1="375.12" y1="832.50" x2="375.12" y2="838.00" stroke="#000" stroke-width="2" stroke-linecap="butt"/>
<line x1="440.80" y1="485.30" x2="440.80" y2="490.80" stroke="#000" stroke-width="2" stroke-linecap="butt"/>
<line x1="440.80" y1="832.50" x2="440.80" y2="838.00" stroke="#000" stroke-width="2" stroke-linecap="butt"/>
<text transform="translate(2.13,471.80) scale(0.2475,0.2545)" font-size="100" font-weight="bold" fill="#111" stroke="#111" stroke-width="0.80">B</text>
<text transform="translate(66.68,489.60) scale(0.2563,0.2575)" font-size="100" fill="#111" stroke="#111" stroke-width="0.78">1.4</text>
<text transform="translate(66.64,561.20) scale(0.2617,0.2538)" font-size="100" fill="#111" stroke="#111" stroke-width="0.78">1.2</text>
<text transform="translate(88.96,631.80) scale(0.1919,0.2633)" font-size="100" fill="#111" stroke="#111" stroke-width="0.88">1</text>
<text transform="translate(65.73,702.64) scale(0.2669,0.2558)" font-size="100" fill="#111" stroke="#111" stroke-width="0.77">0.8</text>
<text transform="translate(65.73,773.45) scale(0.2669,0.2544)" font-size="100" fill="#111" stroke="#111" stroke-width="0.77">0.6</text>
<text transform="translate(65.75,844.65) scale(0.2624,0.2516)" font-size="100" fill="#111" stroke="#111" stroke-width="0.78">0.4</text>
<text transform="translate(104.35,863.04) scale(0.2618,0.2615)" font-size="100" fill="#111" stroke="#111" stroke-width="0.76">0</text>
<text transform="translate(166.29,863.04) scale(0.2286,0.2615)" font-size="100" fill="#111" stroke="#111" stroke-width="0.82">10</text>
<text transform="translate(227.59,863.04) scale(0.2611,0.2615)" font-size="100" fill="#111" stroke="#111" stroke-width="0.77">20</text>
<text transform="translate(294.45,863.04) scale(0.2522,0.2615)" font-size="100" fill="#111" stroke="#111" stroke-width="0.78">30</text>
<text transform="translate(361.42,863.04) scale(0.2571,0.2615)" font-size="100" fill="#111" stroke="#111" stroke-width="0.77">40</text>
<text transform="translate(425.28,863.04) scale(0.2538,0.2615)" font-size="100" fill="#111" stroke="#111" stroke-width="0.78">50</text>
<text transform="translate(489.99,863.04) scale(0.2611,0.2615)" font-size="100" fill="#111" stroke="#111" stroke-width="0.77">60</text>
<text transform="translate(245.19,895.77) scale(0.2690,0.2713)" font-size="100" fill="#111" stroke="#111" stroke-width="0.74">Time (min)</text>
<text transform="translate(48.95,834.07) rotate(-90) scale(0.2626,0.2531)" font-size="100" fill="#111" stroke="#111" stroke-width="0.78">Fibrin Formation (Abs 405 nm)</text>
</g>
</svg>
</body></html>
